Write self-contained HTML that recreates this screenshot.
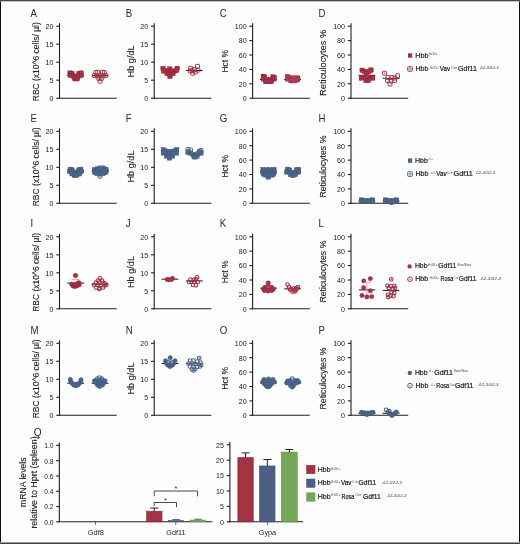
<!DOCTYPE html>
<html><head><meta charset="utf-8"><style>
html,body{margin:0;padding:0;background:#fff;}
body{width:520px;height:544px;overflow:hidden;position:relative;}
svg{position:absolute;left:0;top:0;font-family:'Liberation Sans',sans-serif;will-change:transform;}
.frame{position:absolute;left:0;top:0;width:520px;height:544px;box-sizing:border-box;}
</style></head><body>
<svg width="520" height="544" viewBox="0 0 520 544" font-family="'Liberation Sans', sans-serif">
<rect x="0" y="0" width="520" height="544" fill="#fefefe"/>
<text x="0" y="0" font-size="11.2" fill="#262626" transform="translate(30.60 16.70) scale(0.86 1)">A</text>
<line x1="59.50" y1="23.20" x2="59.50" y2="98.70" stroke="#1e1e1e" stroke-width="1.1"/>
<line x1="59.00" y1="98.20" x2="116.70" y2="98.20" stroke="#1e1e1e" stroke-width="1.1"/>
<line x1="56.30" y1="98.20" x2="59.50" y2="98.20" stroke="#1e1e1e" stroke-width="1.1"/>
<text x="53.50" y="101.05" font-size="7.8" fill="#1a1a1a" text-anchor="end" textLength="3.95" lengthAdjust="spacingAndGlyphs" >0</text>
<line x1="56.30" y1="80.20" x2="59.50" y2="80.20" stroke="#1e1e1e" stroke-width="1.1"/>
<text x="53.50" y="83.05" font-size="7.8" fill="#1a1a1a" text-anchor="end" textLength="3.95" lengthAdjust="spacingAndGlyphs" >5</text>
<line x1="56.30" y1="62.20" x2="59.50" y2="62.20" stroke="#1e1e1e" stroke-width="1.1"/>
<text x="53.50" y="65.05" font-size="7.8" fill="#1a1a1a" text-anchor="end" textLength="7.90" lengthAdjust="spacingAndGlyphs" >10</text>
<line x1="56.30" y1="44.20" x2="59.50" y2="44.20" stroke="#1e1e1e" stroke-width="1.1"/>
<text x="53.50" y="47.05" font-size="7.8" fill="#1a1a1a" text-anchor="end" textLength="7.90" lengthAdjust="spacingAndGlyphs" >15</text>
<line x1="56.30" y1="26.20" x2="59.50" y2="26.20" stroke="#1e1e1e" stroke-width="1.1"/>
<text x="53.50" y="29.05" font-size="7.8" fill="#1a1a1a" text-anchor="end" textLength="7.90" lengthAdjust="spacingAndGlyphs" >20</text>
<text x="38.60" y="101.20" font-size="9.6" fill="#222" textLength="79.00" lengthAdjust="spacingAndGlyphs" transform="rotate(-90 38.60 101.20)" stroke="#222" stroke-width="0.12">RBC (x10^6 cells/ µl)</text>
<text x="0" y="0" font-size="11.2" fill="#262626" transform="translate(125.80 16.70) scale(0.86 1)">B</text>
<line x1="154.20" y1="23.20" x2="154.20" y2="98.70" stroke="#1e1e1e" stroke-width="1.1"/>
<line x1="153.70" y1="98.20" x2="211.40" y2="98.20" stroke="#1e1e1e" stroke-width="1.1"/>
<line x1="151.00" y1="98.20" x2="154.20" y2="98.20" stroke="#1e1e1e" stroke-width="1.1"/>
<text x="148.20" y="101.05" font-size="7.8" fill="#1a1a1a" text-anchor="end" textLength="3.95" lengthAdjust="spacingAndGlyphs" >0</text>
<line x1="151.00" y1="80.20" x2="154.20" y2="80.20" stroke="#1e1e1e" stroke-width="1.1"/>
<text x="148.20" y="83.05" font-size="7.8" fill="#1a1a1a" text-anchor="end" textLength="3.95" lengthAdjust="spacingAndGlyphs" >5</text>
<line x1="151.00" y1="62.20" x2="154.20" y2="62.20" stroke="#1e1e1e" stroke-width="1.1"/>
<text x="148.20" y="65.05" font-size="7.8" fill="#1a1a1a" text-anchor="end" textLength="7.90" lengthAdjust="spacingAndGlyphs" >10</text>
<line x1="151.00" y1="44.20" x2="154.20" y2="44.20" stroke="#1e1e1e" stroke-width="1.1"/>
<text x="148.20" y="47.05" font-size="7.8" fill="#1a1a1a" text-anchor="end" textLength="7.90" lengthAdjust="spacingAndGlyphs" >15</text>
<line x1="151.00" y1="26.20" x2="154.20" y2="26.20" stroke="#1e1e1e" stroke-width="1.1"/>
<text x="148.20" y="29.05" font-size="7.8" fill="#1a1a1a" text-anchor="end" textLength="7.90" lengthAdjust="spacingAndGlyphs" >20</text>
<text x="133.60" y="77.40" font-size="9.6" fill="#222" textLength="32.00" lengthAdjust="spacingAndGlyphs" transform="rotate(-90 133.60 77.40)" stroke="#222" stroke-width="0.12">Hb g/dL</text>
<text x="0" y="0" font-size="11.2" fill="#262626" transform="translate(219.80 16.70) scale(0.86 1)">C</text>
<line x1="252.60" y1="23.20" x2="252.60" y2="98.70" stroke="#1e1e1e" stroke-width="1.1"/>
<line x1="252.10" y1="98.20" x2="309.80" y2="98.20" stroke="#1e1e1e" stroke-width="1.1"/>
<line x1="249.40" y1="98.20" x2="252.60" y2="98.20" stroke="#1e1e1e" stroke-width="1.1"/>
<text x="246.60" y="101.05" font-size="7.8" fill="#1a1a1a" text-anchor="end" textLength="3.95" lengthAdjust="spacingAndGlyphs" >0</text>
<line x1="249.40" y1="83.80" x2="252.60" y2="83.80" stroke="#1e1e1e" stroke-width="1.1"/>
<text x="246.60" y="86.65" font-size="7.8" fill="#1a1a1a" text-anchor="end" textLength="7.90" lengthAdjust="spacingAndGlyphs" >20</text>
<line x1="249.40" y1="69.40" x2="252.60" y2="69.40" stroke="#1e1e1e" stroke-width="1.1"/>
<text x="246.60" y="72.25" font-size="7.8" fill="#1a1a1a" text-anchor="end" textLength="7.90" lengthAdjust="spacingAndGlyphs" >40</text>
<line x1="249.40" y1="55.00" x2="252.60" y2="55.00" stroke="#1e1e1e" stroke-width="1.1"/>
<text x="246.60" y="57.85" font-size="7.8" fill="#1a1a1a" text-anchor="end" textLength="7.90" lengthAdjust="spacingAndGlyphs" >60</text>
<line x1="249.40" y1="40.60" x2="252.60" y2="40.60" stroke="#1e1e1e" stroke-width="1.1"/>
<text x="246.60" y="43.45" font-size="7.8" fill="#1a1a1a" text-anchor="end" textLength="7.90" lengthAdjust="spacingAndGlyphs" >80</text>
<line x1="249.40" y1="26.20" x2="252.60" y2="26.20" stroke="#1e1e1e" stroke-width="1.1"/>
<text x="246.60" y="29.05" font-size="7.8" fill="#1a1a1a" text-anchor="end" textLength="11.85" lengthAdjust="spacingAndGlyphs" >100</text>
<text x="228.00" y="72.60" font-size="9.6" fill="#222" textLength="22.80" lengthAdjust="spacingAndGlyphs" transform="rotate(-90 228.00 72.60)" stroke="#222" stroke-width="0.12">Hct %</text>
<text x="0" y="0" font-size="11.2" fill="#262626" transform="translate(318.40 16.70) scale(0.86 1)">D</text>
<line x1="351.00" y1="23.20" x2="351.00" y2="98.70" stroke="#1e1e1e" stroke-width="1.1"/>
<line x1="350.50" y1="98.20" x2="408.20" y2="98.20" stroke="#1e1e1e" stroke-width="1.1"/>
<line x1="347.80" y1="98.20" x2="351.00" y2="98.20" stroke="#1e1e1e" stroke-width="1.1"/>
<text x="345.00" y="101.05" font-size="7.8" fill="#1a1a1a" text-anchor="end" textLength="3.95" lengthAdjust="spacingAndGlyphs" >0</text>
<line x1="347.80" y1="83.80" x2="351.00" y2="83.80" stroke="#1e1e1e" stroke-width="1.1"/>
<text x="345.00" y="86.65" font-size="7.8" fill="#1a1a1a" text-anchor="end" textLength="7.90" lengthAdjust="spacingAndGlyphs" >20</text>
<line x1="347.80" y1="69.40" x2="351.00" y2="69.40" stroke="#1e1e1e" stroke-width="1.1"/>
<text x="345.00" y="72.25" font-size="7.8" fill="#1a1a1a" text-anchor="end" textLength="7.90" lengthAdjust="spacingAndGlyphs" >40</text>
<line x1="347.80" y1="55.00" x2="351.00" y2="55.00" stroke="#1e1e1e" stroke-width="1.1"/>
<text x="345.00" y="57.85" font-size="7.8" fill="#1a1a1a" text-anchor="end" textLength="7.90" lengthAdjust="spacingAndGlyphs" >60</text>
<line x1="347.80" y1="40.60" x2="351.00" y2="40.60" stroke="#1e1e1e" stroke-width="1.1"/>
<text x="345.00" y="43.45" font-size="7.8" fill="#1a1a1a" text-anchor="end" textLength="7.90" lengthAdjust="spacingAndGlyphs" >80</text>
<line x1="347.80" y1="26.20" x2="351.00" y2="26.20" stroke="#1e1e1e" stroke-width="1.1"/>
<text x="345.00" y="29.05" font-size="7.8" fill="#1a1a1a" text-anchor="end" textLength="11.85" lengthAdjust="spacingAndGlyphs" >100</text>
<text x="326.50" y="95.90" font-size="9.6" fill="#222" textLength="66.20" lengthAdjust="spacingAndGlyphs" transform="rotate(-90 326.50 95.90)" stroke="#222" stroke-width="0.12">Reticulocytes %</text>
<text x="0" y="0" font-size="11.2" fill="#262626" transform="translate(30.60 121.80) scale(0.86 1)">E</text>
<line x1="59.50" y1="128.30" x2="59.50" y2="203.80" stroke="#1e1e1e" stroke-width="1.1"/>
<line x1="59.00" y1="203.30" x2="116.70" y2="203.30" stroke="#1e1e1e" stroke-width="1.1"/>
<line x1="56.30" y1="203.30" x2="59.50" y2="203.30" stroke="#1e1e1e" stroke-width="1.1"/>
<text x="53.50" y="206.15" font-size="7.8" fill="#1a1a1a" text-anchor="end" textLength="3.95" lengthAdjust="spacingAndGlyphs" >0</text>
<line x1="56.30" y1="185.30" x2="59.50" y2="185.30" stroke="#1e1e1e" stroke-width="1.1"/>
<text x="53.50" y="188.15" font-size="7.8" fill="#1a1a1a" text-anchor="end" textLength="3.95" lengthAdjust="spacingAndGlyphs" >5</text>
<line x1="56.30" y1="167.30" x2="59.50" y2="167.30" stroke="#1e1e1e" stroke-width="1.1"/>
<text x="53.50" y="170.15" font-size="7.8" fill="#1a1a1a" text-anchor="end" textLength="7.90" lengthAdjust="spacingAndGlyphs" >10</text>
<line x1="56.30" y1="149.30" x2="59.50" y2="149.30" stroke="#1e1e1e" stroke-width="1.1"/>
<text x="53.50" y="152.15" font-size="7.8" fill="#1a1a1a" text-anchor="end" textLength="7.90" lengthAdjust="spacingAndGlyphs" >15</text>
<line x1="56.30" y1="131.30" x2="59.50" y2="131.30" stroke="#1e1e1e" stroke-width="1.1"/>
<text x="53.50" y="134.15" font-size="7.8" fill="#1a1a1a" text-anchor="end" textLength="7.90" lengthAdjust="spacingAndGlyphs" >20</text>
<text x="38.60" y="206.30" font-size="9.6" fill="#222" textLength="79.00" lengthAdjust="spacingAndGlyphs" transform="rotate(-90 38.60 206.30)" stroke="#222" stroke-width="0.12">RBC (x10^6 cells/ µl)</text>
<text x="0" y="0" font-size="11.2" fill="#262626" transform="translate(125.80 121.80) scale(0.86 1)">F</text>
<line x1="154.20" y1="128.30" x2="154.20" y2="203.80" stroke="#1e1e1e" stroke-width="1.1"/>
<line x1="153.70" y1="203.30" x2="211.40" y2="203.30" stroke="#1e1e1e" stroke-width="1.1"/>
<line x1="151.00" y1="203.30" x2="154.20" y2="203.30" stroke="#1e1e1e" stroke-width="1.1"/>
<text x="148.20" y="206.15" font-size="7.8" fill="#1a1a1a" text-anchor="end" textLength="3.95" lengthAdjust="spacingAndGlyphs" >0</text>
<line x1="151.00" y1="185.30" x2="154.20" y2="185.30" stroke="#1e1e1e" stroke-width="1.1"/>
<text x="148.20" y="188.15" font-size="7.8" fill="#1a1a1a" text-anchor="end" textLength="3.95" lengthAdjust="spacingAndGlyphs" >5</text>
<line x1="151.00" y1="167.30" x2="154.20" y2="167.30" stroke="#1e1e1e" stroke-width="1.1"/>
<text x="148.20" y="170.15" font-size="7.8" fill="#1a1a1a" text-anchor="end" textLength="7.90" lengthAdjust="spacingAndGlyphs" >10</text>
<line x1="151.00" y1="149.30" x2="154.20" y2="149.30" stroke="#1e1e1e" stroke-width="1.1"/>
<text x="148.20" y="152.15" font-size="7.8" fill="#1a1a1a" text-anchor="end" textLength="7.90" lengthAdjust="spacingAndGlyphs" >15</text>
<line x1="151.00" y1="131.30" x2="154.20" y2="131.30" stroke="#1e1e1e" stroke-width="1.1"/>
<text x="148.20" y="134.15" font-size="7.8" fill="#1a1a1a" text-anchor="end" textLength="7.90" lengthAdjust="spacingAndGlyphs" >20</text>
<text x="133.60" y="182.50" font-size="9.6" fill="#222" textLength="32.00" lengthAdjust="spacingAndGlyphs" transform="rotate(-90 133.60 182.50)" stroke="#222" stroke-width="0.12">Hb g/dL</text>
<text x="0" y="0" font-size="11.2" fill="#262626" transform="translate(219.80 121.80) scale(0.86 1)">G</text>
<line x1="252.60" y1="128.30" x2="252.60" y2="203.80" stroke="#1e1e1e" stroke-width="1.1"/>
<line x1="252.10" y1="203.30" x2="309.80" y2="203.30" stroke="#1e1e1e" stroke-width="1.1"/>
<line x1="249.40" y1="203.30" x2="252.60" y2="203.30" stroke="#1e1e1e" stroke-width="1.1"/>
<text x="246.60" y="206.15" font-size="7.8" fill="#1a1a1a" text-anchor="end" textLength="3.95" lengthAdjust="spacingAndGlyphs" >0</text>
<line x1="249.40" y1="188.90" x2="252.60" y2="188.90" stroke="#1e1e1e" stroke-width="1.1"/>
<text x="246.60" y="191.75" font-size="7.8" fill="#1a1a1a" text-anchor="end" textLength="7.90" lengthAdjust="spacingAndGlyphs" >20</text>
<line x1="249.40" y1="174.50" x2="252.60" y2="174.50" stroke="#1e1e1e" stroke-width="1.1"/>
<text x="246.60" y="177.35" font-size="7.8" fill="#1a1a1a" text-anchor="end" textLength="7.90" lengthAdjust="spacingAndGlyphs" >40</text>
<line x1="249.40" y1="160.10" x2="252.60" y2="160.10" stroke="#1e1e1e" stroke-width="1.1"/>
<text x="246.60" y="162.95" font-size="7.8" fill="#1a1a1a" text-anchor="end" textLength="7.90" lengthAdjust="spacingAndGlyphs" >60</text>
<line x1="249.40" y1="145.70" x2="252.60" y2="145.70" stroke="#1e1e1e" stroke-width="1.1"/>
<text x="246.60" y="148.55" font-size="7.8" fill="#1a1a1a" text-anchor="end" textLength="7.90" lengthAdjust="spacingAndGlyphs" >80</text>
<line x1="249.40" y1="131.30" x2="252.60" y2="131.30" stroke="#1e1e1e" stroke-width="1.1"/>
<text x="246.60" y="134.15" font-size="7.8" fill="#1a1a1a" text-anchor="end" textLength="11.85" lengthAdjust="spacingAndGlyphs" >100</text>
<text x="228.00" y="177.70" font-size="9.6" fill="#222" textLength="22.80" lengthAdjust="spacingAndGlyphs" transform="rotate(-90 228.00 177.70)" stroke="#222" stroke-width="0.12">Hct %</text>
<text x="0" y="0" font-size="11.2" fill="#262626" transform="translate(318.40 121.80) scale(0.86 1)">H</text>
<line x1="351.00" y1="128.30" x2="351.00" y2="203.80" stroke="#1e1e1e" stroke-width="1.1"/>
<line x1="350.50" y1="203.30" x2="408.20" y2="203.30" stroke="#1e1e1e" stroke-width="1.1"/>
<line x1="347.80" y1="203.30" x2="351.00" y2="203.30" stroke="#1e1e1e" stroke-width="1.1"/>
<text x="345.00" y="206.15" font-size="7.8" fill="#1a1a1a" text-anchor="end" textLength="3.95" lengthAdjust="spacingAndGlyphs" >0</text>
<line x1="347.80" y1="188.90" x2="351.00" y2="188.90" stroke="#1e1e1e" stroke-width="1.1"/>
<text x="345.00" y="191.75" font-size="7.8" fill="#1a1a1a" text-anchor="end" textLength="7.90" lengthAdjust="spacingAndGlyphs" >20</text>
<line x1="347.80" y1="174.50" x2="351.00" y2="174.50" stroke="#1e1e1e" stroke-width="1.1"/>
<text x="345.00" y="177.35" font-size="7.8" fill="#1a1a1a" text-anchor="end" textLength="7.90" lengthAdjust="spacingAndGlyphs" >40</text>
<line x1="347.80" y1="160.10" x2="351.00" y2="160.10" stroke="#1e1e1e" stroke-width="1.1"/>
<text x="345.00" y="162.95" font-size="7.8" fill="#1a1a1a" text-anchor="end" textLength="7.90" lengthAdjust="spacingAndGlyphs" >60</text>
<line x1="347.80" y1="145.70" x2="351.00" y2="145.70" stroke="#1e1e1e" stroke-width="1.1"/>
<text x="345.00" y="148.55" font-size="7.8" fill="#1a1a1a" text-anchor="end" textLength="7.90" lengthAdjust="spacingAndGlyphs" >80</text>
<line x1="347.80" y1="131.30" x2="351.00" y2="131.30" stroke="#1e1e1e" stroke-width="1.1"/>
<text x="345.00" y="134.15" font-size="7.8" fill="#1a1a1a" text-anchor="end" textLength="11.85" lengthAdjust="spacingAndGlyphs" >100</text>
<text x="326.50" y="197.60" font-size="9.1" fill="#222" textLength="62.00" lengthAdjust="spacingAndGlyphs" transform="rotate(-90 326.50 197.60)" stroke="#222" stroke-width="0.12">Reticulocytes %</text>
<text x="0" y="0" font-size="11.2" fill="#262626" transform="translate(30.60 227.30) scale(0.86 1)">I</text>
<line x1="59.50" y1="233.80" x2="59.50" y2="309.30" stroke="#1e1e1e" stroke-width="1.1"/>
<line x1="59.00" y1="308.80" x2="116.70" y2="308.80" stroke="#1e1e1e" stroke-width="1.1"/>
<line x1="56.30" y1="308.80" x2="59.50" y2="308.80" stroke="#1e1e1e" stroke-width="1.1"/>
<text x="53.50" y="311.65" font-size="7.8" fill="#1a1a1a" text-anchor="end" textLength="3.95" lengthAdjust="spacingAndGlyphs" >0</text>
<line x1="56.30" y1="290.80" x2="59.50" y2="290.80" stroke="#1e1e1e" stroke-width="1.1"/>
<text x="53.50" y="293.65" font-size="7.8" fill="#1a1a1a" text-anchor="end" textLength="3.95" lengthAdjust="spacingAndGlyphs" >5</text>
<line x1="56.30" y1="272.80" x2="59.50" y2="272.80" stroke="#1e1e1e" stroke-width="1.1"/>
<text x="53.50" y="275.65" font-size="7.8" fill="#1a1a1a" text-anchor="end" textLength="7.90" lengthAdjust="spacingAndGlyphs" >10</text>
<line x1="56.30" y1="254.80" x2="59.50" y2="254.80" stroke="#1e1e1e" stroke-width="1.1"/>
<text x="53.50" y="257.65" font-size="7.8" fill="#1a1a1a" text-anchor="end" textLength="7.90" lengthAdjust="spacingAndGlyphs" >15</text>
<line x1="56.30" y1="236.80" x2="59.50" y2="236.80" stroke="#1e1e1e" stroke-width="1.1"/>
<text x="53.50" y="239.65" font-size="7.8" fill="#1a1a1a" text-anchor="end" textLength="7.90" lengthAdjust="spacingAndGlyphs" >20</text>
<text x="38.60" y="311.80" font-size="9.6" fill="#222" textLength="79.00" lengthAdjust="spacingAndGlyphs" transform="rotate(-90 38.60 311.80)" stroke="#222" stroke-width="0.12">RBC (x10^6 cells/ µl)</text>
<text x="0" y="0" font-size="11.2" fill="#262626" transform="translate(125.80 227.30) scale(0.86 1)">J</text>
<line x1="154.20" y1="233.80" x2="154.20" y2="309.30" stroke="#1e1e1e" stroke-width="1.1"/>
<line x1="153.70" y1="308.80" x2="211.40" y2="308.80" stroke="#1e1e1e" stroke-width="1.1"/>
<line x1="151.00" y1="308.80" x2="154.20" y2="308.80" stroke="#1e1e1e" stroke-width="1.1"/>
<text x="148.20" y="311.65" font-size="7.8" fill="#1a1a1a" text-anchor="end" textLength="3.95" lengthAdjust="spacingAndGlyphs" >0</text>
<line x1="151.00" y1="290.80" x2="154.20" y2="290.80" stroke="#1e1e1e" stroke-width="1.1"/>
<text x="148.20" y="293.65" font-size="7.8" fill="#1a1a1a" text-anchor="end" textLength="3.95" lengthAdjust="spacingAndGlyphs" >5</text>
<line x1="151.00" y1="272.80" x2="154.20" y2="272.80" stroke="#1e1e1e" stroke-width="1.1"/>
<text x="148.20" y="275.65" font-size="7.8" fill="#1a1a1a" text-anchor="end" textLength="7.90" lengthAdjust="spacingAndGlyphs" >10</text>
<line x1="151.00" y1="254.80" x2="154.20" y2="254.80" stroke="#1e1e1e" stroke-width="1.1"/>
<text x="148.20" y="257.65" font-size="7.8" fill="#1a1a1a" text-anchor="end" textLength="7.90" lengthAdjust="spacingAndGlyphs" >15</text>
<line x1="151.00" y1="236.80" x2="154.20" y2="236.80" stroke="#1e1e1e" stroke-width="1.1"/>
<text x="148.20" y="239.65" font-size="7.8" fill="#1a1a1a" text-anchor="end" textLength="7.90" lengthAdjust="spacingAndGlyphs" >20</text>
<text x="133.60" y="288.00" font-size="9.6" fill="#222" textLength="32.00" lengthAdjust="spacingAndGlyphs" transform="rotate(-90 133.60 288.00)" stroke="#222" stroke-width="0.12">Hb g/dL</text>
<text x="0" y="0" font-size="11.2" fill="#262626" transform="translate(219.80 227.30) scale(0.86 1)">K</text>
<line x1="252.60" y1="233.80" x2="252.60" y2="309.30" stroke="#1e1e1e" stroke-width="1.1"/>
<line x1="252.10" y1="308.80" x2="309.80" y2="308.80" stroke="#1e1e1e" stroke-width="1.1"/>
<line x1="249.40" y1="308.80" x2="252.60" y2="308.80" stroke="#1e1e1e" stroke-width="1.1"/>
<text x="246.60" y="311.65" font-size="7.8" fill="#1a1a1a" text-anchor="end" textLength="3.95" lengthAdjust="spacingAndGlyphs" >0</text>
<line x1="249.40" y1="294.40" x2="252.60" y2="294.40" stroke="#1e1e1e" stroke-width="1.1"/>
<text x="246.60" y="297.25" font-size="7.8" fill="#1a1a1a" text-anchor="end" textLength="7.90" lengthAdjust="spacingAndGlyphs" >20</text>
<line x1="249.40" y1="280.00" x2="252.60" y2="280.00" stroke="#1e1e1e" stroke-width="1.1"/>
<text x="246.60" y="282.85" font-size="7.8" fill="#1a1a1a" text-anchor="end" textLength="7.90" lengthAdjust="spacingAndGlyphs" >40</text>
<line x1="249.40" y1="265.60" x2="252.60" y2="265.60" stroke="#1e1e1e" stroke-width="1.1"/>
<text x="246.60" y="268.45" font-size="7.8" fill="#1a1a1a" text-anchor="end" textLength="7.90" lengthAdjust="spacingAndGlyphs" >60</text>
<line x1="249.40" y1="251.20" x2="252.60" y2="251.20" stroke="#1e1e1e" stroke-width="1.1"/>
<text x="246.60" y="254.05" font-size="7.8" fill="#1a1a1a" text-anchor="end" textLength="7.90" lengthAdjust="spacingAndGlyphs" >80</text>
<line x1="249.40" y1="236.80" x2="252.60" y2="236.80" stroke="#1e1e1e" stroke-width="1.1"/>
<text x="246.60" y="239.65" font-size="7.8" fill="#1a1a1a" text-anchor="end" textLength="11.85" lengthAdjust="spacingAndGlyphs" >100</text>
<text x="228.00" y="283.20" font-size="9.6" fill="#222" textLength="22.80" lengthAdjust="spacingAndGlyphs" transform="rotate(-90 228.00 283.20)" stroke="#222" stroke-width="0.12">Hct %</text>
<text x="0" y="0" font-size="11.2" fill="#262626" transform="translate(318.40 227.30) scale(0.86 1)">L</text>
<line x1="351.00" y1="233.80" x2="351.00" y2="309.30" stroke="#1e1e1e" stroke-width="1.1"/>
<line x1="350.50" y1="308.80" x2="408.20" y2="308.80" stroke="#1e1e1e" stroke-width="1.1"/>
<line x1="347.80" y1="308.80" x2="351.00" y2="308.80" stroke="#1e1e1e" stroke-width="1.1"/>
<text x="345.00" y="311.65" font-size="7.8" fill="#1a1a1a" text-anchor="end" textLength="3.95" lengthAdjust="spacingAndGlyphs" >0</text>
<line x1="347.80" y1="294.40" x2="351.00" y2="294.40" stroke="#1e1e1e" stroke-width="1.1"/>
<text x="345.00" y="297.25" font-size="7.8" fill="#1a1a1a" text-anchor="end" textLength="7.90" lengthAdjust="spacingAndGlyphs" >20</text>
<line x1="347.80" y1="280.00" x2="351.00" y2="280.00" stroke="#1e1e1e" stroke-width="1.1"/>
<text x="345.00" y="282.85" font-size="7.8" fill="#1a1a1a" text-anchor="end" textLength="7.90" lengthAdjust="spacingAndGlyphs" >40</text>
<line x1="347.80" y1="265.60" x2="351.00" y2="265.60" stroke="#1e1e1e" stroke-width="1.1"/>
<text x="345.00" y="268.45" font-size="7.8" fill="#1a1a1a" text-anchor="end" textLength="7.90" lengthAdjust="spacingAndGlyphs" >60</text>
<line x1="347.80" y1="251.20" x2="351.00" y2="251.20" stroke="#1e1e1e" stroke-width="1.1"/>
<text x="345.00" y="254.05" font-size="7.8" fill="#1a1a1a" text-anchor="end" textLength="7.90" lengthAdjust="spacingAndGlyphs" >80</text>
<line x1="347.80" y1="236.80" x2="351.00" y2="236.80" stroke="#1e1e1e" stroke-width="1.1"/>
<text x="345.00" y="239.65" font-size="7.8" fill="#1a1a1a" text-anchor="end" textLength="11.85" lengthAdjust="spacingAndGlyphs" >100</text>
<text x="326.50" y="302.60" font-size="9.1" fill="#222" textLength="62.00" lengthAdjust="spacingAndGlyphs" transform="rotate(-90 326.50 302.60)" stroke="#222" stroke-width="0.12">Reticulocytes %</text>
<text x="0" y="0" font-size="11.2" fill="#262626" transform="translate(30.60 333.80) scale(0.86 1)">M</text>
<line x1="59.50" y1="340.30" x2="59.50" y2="415.80" stroke="#1e1e1e" stroke-width="1.1"/>
<line x1="59.00" y1="415.30" x2="116.70" y2="415.30" stroke="#1e1e1e" stroke-width="1.1"/>
<line x1="56.30" y1="415.30" x2="59.50" y2="415.30" stroke="#1e1e1e" stroke-width="1.1"/>
<text x="53.50" y="418.15" font-size="7.8" fill="#1a1a1a" text-anchor="end" textLength="3.95" lengthAdjust="spacingAndGlyphs" >0</text>
<line x1="56.30" y1="397.30" x2="59.50" y2="397.30" stroke="#1e1e1e" stroke-width="1.1"/>
<text x="53.50" y="400.15" font-size="7.8" fill="#1a1a1a" text-anchor="end" textLength="3.95" lengthAdjust="spacingAndGlyphs" >5</text>
<line x1="56.30" y1="379.30" x2="59.50" y2="379.30" stroke="#1e1e1e" stroke-width="1.1"/>
<text x="53.50" y="382.15" font-size="7.8" fill="#1a1a1a" text-anchor="end" textLength="7.90" lengthAdjust="spacingAndGlyphs" >10</text>
<line x1="56.30" y1="361.30" x2="59.50" y2="361.30" stroke="#1e1e1e" stroke-width="1.1"/>
<text x="53.50" y="364.15" font-size="7.8" fill="#1a1a1a" text-anchor="end" textLength="7.90" lengthAdjust="spacingAndGlyphs" >15</text>
<line x1="56.30" y1="343.30" x2="59.50" y2="343.30" stroke="#1e1e1e" stroke-width="1.1"/>
<text x="53.50" y="346.15" font-size="7.8" fill="#1a1a1a" text-anchor="end" textLength="7.90" lengthAdjust="spacingAndGlyphs" >20</text>
<text x="38.60" y="418.30" font-size="9.6" fill="#222" textLength="79.00" lengthAdjust="spacingAndGlyphs" transform="rotate(-90 38.60 418.30)" stroke="#222" stroke-width="0.12">RBC (x10^6 cells/ µl)</text>
<text x="0" y="0" font-size="11.2" fill="#262626" transform="translate(125.80 333.80) scale(0.86 1)">N</text>
<line x1="154.20" y1="340.30" x2="154.20" y2="415.80" stroke="#1e1e1e" stroke-width="1.1"/>
<line x1="153.70" y1="415.30" x2="211.40" y2="415.30" stroke="#1e1e1e" stroke-width="1.1"/>
<line x1="151.00" y1="415.30" x2="154.20" y2="415.30" stroke="#1e1e1e" stroke-width="1.1"/>
<text x="148.20" y="418.15" font-size="7.8" fill="#1a1a1a" text-anchor="end" textLength="3.95" lengthAdjust="spacingAndGlyphs" >0</text>
<line x1="151.00" y1="397.30" x2="154.20" y2="397.30" stroke="#1e1e1e" stroke-width="1.1"/>
<text x="148.20" y="400.15" font-size="7.8" fill="#1a1a1a" text-anchor="end" textLength="3.95" lengthAdjust="spacingAndGlyphs" >5</text>
<line x1="151.00" y1="379.30" x2="154.20" y2="379.30" stroke="#1e1e1e" stroke-width="1.1"/>
<text x="148.20" y="382.15" font-size="7.8" fill="#1a1a1a" text-anchor="end" textLength="7.90" lengthAdjust="spacingAndGlyphs" >10</text>
<line x1="151.00" y1="361.30" x2="154.20" y2="361.30" stroke="#1e1e1e" stroke-width="1.1"/>
<text x="148.20" y="364.15" font-size="7.8" fill="#1a1a1a" text-anchor="end" textLength="7.90" lengthAdjust="spacingAndGlyphs" >15</text>
<line x1="151.00" y1="343.30" x2="154.20" y2="343.30" stroke="#1e1e1e" stroke-width="1.1"/>
<text x="148.20" y="346.15" font-size="7.8" fill="#1a1a1a" text-anchor="end" textLength="7.90" lengthAdjust="spacingAndGlyphs" >20</text>
<text x="133.60" y="394.50" font-size="9.6" fill="#222" textLength="32.00" lengthAdjust="spacingAndGlyphs" transform="rotate(-90 133.60 394.50)" stroke="#222" stroke-width="0.12">Hb g/dL</text>
<text x="0" y="0" font-size="11.2" fill="#262626" transform="translate(219.80 333.80) scale(0.86 1)">O</text>
<line x1="252.60" y1="340.30" x2="252.60" y2="415.80" stroke="#1e1e1e" stroke-width="1.1"/>
<line x1="252.10" y1="415.30" x2="309.80" y2="415.30" stroke="#1e1e1e" stroke-width="1.1"/>
<line x1="249.40" y1="415.30" x2="252.60" y2="415.30" stroke="#1e1e1e" stroke-width="1.1"/>
<text x="246.60" y="418.15" font-size="7.8" fill="#1a1a1a" text-anchor="end" textLength="3.95" lengthAdjust="spacingAndGlyphs" >0</text>
<line x1="249.40" y1="400.90" x2="252.60" y2="400.90" stroke="#1e1e1e" stroke-width="1.1"/>
<text x="246.60" y="403.75" font-size="7.8" fill="#1a1a1a" text-anchor="end" textLength="7.90" lengthAdjust="spacingAndGlyphs" >20</text>
<line x1="249.40" y1="386.50" x2="252.60" y2="386.50" stroke="#1e1e1e" stroke-width="1.1"/>
<text x="246.60" y="389.35" font-size="7.8" fill="#1a1a1a" text-anchor="end" textLength="7.90" lengthAdjust="spacingAndGlyphs" >40</text>
<line x1="249.40" y1="372.10" x2="252.60" y2="372.10" stroke="#1e1e1e" stroke-width="1.1"/>
<text x="246.60" y="374.95" font-size="7.8" fill="#1a1a1a" text-anchor="end" textLength="7.90" lengthAdjust="spacingAndGlyphs" >60</text>
<line x1="249.40" y1="357.70" x2="252.60" y2="357.70" stroke="#1e1e1e" stroke-width="1.1"/>
<text x="246.60" y="360.55" font-size="7.8" fill="#1a1a1a" text-anchor="end" textLength="7.90" lengthAdjust="spacingAndGlyphs" >80</text>
<line x1="249.40" y1="343.30" x2="252.60" y2="343.30" stroke="#1e1e1e" stroke-width="1.1"/>
<text x="246.60" y="346.15" font-size="7.8" fill="#1a1a1a" text-anchor="end" textLength="11.85" lengthAdjust="spacingAndGlyphs" >100</text>
<text x="228.00" y="389.70" font-size="9.6" fill="#222" textLength="22.80" lengthAdjust="spacingAndGlyphs" transform="rotate(-90 228.00 389.70)" stroke="#222" stroke-width="0.12">Hct %</text>
<text x="0" y="0" font-size="11.2" fill="#262626" transform="translate(318.40 333.80) scale(0.86 1)">P</text>
<line x1="351.00" y1="340.30" x2="351.00" y2="415.80" stroke="#1e1e1e" stroke-width="1.1"/>
<line x1="350.50" y1="415.30" x2="408.20" y2="415.30" stroke="#1e1e1e" stroke-width="1.1"/>
<line x1="347.80" y1="415.30" x2="351.00" y2="415.30" stroke="#1e1e1e" stroke-width="1.1"/>
<text x="345.00" y="418.15" font-size="7.8" fill="#1a1a1a" text-anchor="end" textLength="3.95" lengthAdjust="spacingAndGlyphs" >0</text>
<line x1="347.80" y1="400.90" x2="351.00" y2="400.90" stroke="#1e1e1e" stroke-width="1.1"/>
<text x="345.00" y="403.75" font-size="7.8" fill="#1a1a1a" text-anchor="end" textLength="7.90" lengthAdjust="spacingAndGlyphs" >20</text>
<line x1="347.80" y1="386.50" x2="351.00" y2="386.50" stroke="#1e1e1e" stroke-width="1.1"/>
<text x="345.00" y="389.35" font-size="7.8" fill="#1a1a1a" text-anchor="end" textLength="7.90" lengthAdjust="spacingAndGlyphs" >40</text>
<line x1="347.80" y1="372.10" x2="351.00" y2="372.10" stroke="#1e1e1e" stroke-width="1.1"/>
<text x="345.00" y="374.95" font-size="7.8" fill="#1a1a1a" text-anchor="end" textLength="7.90" lengthAdjust="spacingAndGlyphs" >60</text>
<line x1="347.80" y1="357.70" x2="351.00" y2="357.70" stroke="#1e1e1e" stroke-width="1.1"/>
<text x="345.00" y="360.55" font-size="7.8" fill="#1a1a1a" text-anchor="end" textLength="7.90" lengthAdjust="spacingAndGlyphs" >80</text>
<line x1="347.80" y1="343.30" x2="351.00" y2="343.30" stroke="#1e1e1e" stroke-width="1.1"/>
<text x="345.00" y="346.15" font-size="7.8" fill="#1a1a1a" text-anchor="end" textLength="11.85" lengthAdjust="spacingAndGlyphs" >100</text>
<text x="326.50" y="409.40" font-size="9.1" fill="#222" textLength="61.80" lengthAdjust="spacingAndGlyphs" transform="rotate(-90 326.50 409.40)" stroke="#222" stroke-width="0.12">Reticulocytes %</text>
<line x1="67.10" y1="75.70" x2="83.90" y2="75.70" stroke="#1a1a1a" stroke-width="1.0"/>
<line x1="91.60" y1="75.70" x2="108.40" y2="75.70" stroke="#1a1a1a" stroke-width="1.0"/>
<line x1="161.70" y1="71.50" x2="178.50" y2="71.50" stroke="#1a1a1a" stroke-width="1.0"/>
<line x1="186.00" y1="70.50" x2="202.80" y2="70.50" stroke="#1a1a1a" stroke-width="1.0"/>
<line x1="260.00" y1="79.50" x2="276.80" y2="79.50" stroke="#1a1a1a" stroke-width="1.0"/>
<line x1="284.20" y1="79.50" x2="301.00" y2="79.50" stroke="#1a1a1a" stroke-width="1.0"/>
<line x1="358.50" y1="75.30" x2="375.30" y2="75.30" stroke="#1a1a1a" stroke-width="1.0"/>
<line x1="382.70" y1="78.30" x2="399.50" y2="78.30" stroke="#1a1a1a" stroke-width="1.0"/>
<line x1="67.20" y1="171.50" x2="84.00" y2="171.50" stroke="#1a1a1a" stroke-width="1.0"/>
<line x1="91.60" y1="171.50" x2="108.40" y2="171.50" stroke="#1a1a1a" stroke-width="1.0"/>
<line x1="161.70" y1="153.90" x2="178.50" y2="153.90" stroke="#1a1a1a" stroke-width="1.0"/>
<line x1="185.90" y1="153.90" x2="202.70" y2="153.90" stroke="#1a1a1a" stroke-width="1.0"/>
<line x1="260.10" y1="172.50" x2="276.90" y2="172.50" stroke="#1a1a1a" stroke-width="1.0"/>
<line x1="284.20" y1="172.50" x2="301.00" y2="172.50" stroke="#1a1a1a" stroke-width="1.0"/>
<line x1="358.50" y1="201.00" x2="375.30" y2="201.00" stroke="#1a1a1a" stroke-width="1.0"/>
<line x1="382.70" y1="201.00" x2="399.50" y2="201.00" stroke="#1a1a1a" stroke-width="1.0"/>
<line x1="67.35" y1="283.10" x2="84.15" y2="283.10" stroke="#1a1a1a" stroke-width="1.0"/>
<line x1="91.60" y1="284.20" x2="108.40" y2="284.20" stroke="#1a1a1a" stroke-width="1.0"/>
<line x1="161.50" y1="279.20" x2="178.30" y2="279.20" stroke="#1a1a1a" stroke-width="1.0"/>
<line x1="185.90" y1="280.90" x2="202.70" y2="280.90" stroke="#1a1a1a" stroke-width="1.0"/>
<line x1="260.10" y1="288.20" x2="276.90" y2="288.20" stroke="#1a1a1a" stroke-width="1.0"/>
<line x1="284.20" y1="288.90" x2="301.00" y2="288.90" stroke="#1a1a1a" stroke-width="1.0"/>
<line x1="358.80" y1="289.90" x2="375.40" y2="289.90" stroke="#1a1a1a" stroke-width="1.0"/>
<line x1="382.80" y1="290.40" x2="399.40" y2="290.40" stroke="#1a1a1a" stroke-width="1.0"/>
<line x1="67.35" y1="383.30" x2="84.15" y2="383.30" stroke="#1a1a1a" stroke-width="1.0"/>
<line x1="91.60" y1="383.30" x2="108.40" y2="383.30" stroke="#1a1a1a" stroke-width="1.0"/>
<line x1="161.70" y1="363.50" x2="178.50" y2="363.50" stroke="#1a1a1a" stroke-width="1.0"/>
<line x1="185.90" y1="363.80" x2="202.70" y2="363.80" stroke="#1a1a1a" stroke-width="1.0"/>
<line x1="260.10" y1="382.90" x2="276.90" y2="382.90" stroke="#1a1a1a" stroke-width="1.0"/>
<line x1="284.20" y1="382.90" x2="301.00" y2="382.90" stroke="#1a1a1a" stroke-width="1.0"/>
<line x1="358.50" y1="413.50" x2="375.30" y2="413.50" stroke="#1a1a1a" stroke-width="1.0"/>
<line x1="382.70" y1="413.30" x2="399.50" y2="413.30" stroke="#1a1a1a" stroke-width="1.0"/>
<rect x="67.80" y="70.80" width="4.4" height="4.4" fill="#a23446" stroke="#931c34" stroke-width="0.4"/>
<rect x="69.80" y="71.30" width="4.4" height="4.4" fill="#a23446" stroke="#931c34" stroke-width="0.4"/>
<rect x="76.80" y="71.30" width="4.4" height="4.4" fill="#a23446" stroke="#931c34" stroke-width="0.4"/>
<rect x="78.80" y="70.80" width="4.4" height="4.4" fill="#a23446" stroke="#931c34" stroke-width="0.4"/>
<rect x="68.30" y="73.30" width="4.4" height="4.4" fill="#a23446" stroke="#931c34" stroke-width="0.4"/>
<rect x="71.30" y="73.80" width="4.4" height="4.4" fill="#a23446" stroke="#931c34" stroke-width="0.4"/>
<rect x="73.80" y="74.30" width="4.4" height="4.4" fill="#a23446" stroke="#931c34" stroke-width="0.4"/>
<rect x="76.30" y="73.80" width="4.4" height="4.4" fill="#a23446" stroke="#931c34" stroke-width="0.4"/>
<rect x="78.80" y="73.30" width="4.4" height="4.4" fill="#a23446" stroke="#931c34" stroke-width="0.4"/>
<rect x="72.80" y="76.60" width="4.4" height="4.4" fill="#a23446" stroke="#931c34" stroke-width="0.4"/>
<rect x="74.80" y="76.60" width="4.4" height="4.4" fill="#a23446" stroke="#931c34" stroke-width="0.4"/>
<rect x="72.30" y="75.30" width="4.4" height="4.4" fill="#a23446" stroke="#931c34" stroke-width="0.4"/>
<rect x="75.30" y="75.30" width="4.4" height="4.4" fill="#a23446" stroke="#931c34" stroke-width="0.4"/>
<rect x="93.85" y="70.65" width="3.90" height="3.90" rx="0.6" fill="none" stroke="#a23446" stroke-width="1.0"/>
<rect x="95.85" y="70.25" width="3.90" height="3.90" rx="0.6" fill="none" stroke="#a23446" stroke-width="1.0"/>
<rect x="100.45" y="70.25" width="3.90" height="3.90" rx="0.6" fill="none" stroke="#a23446" stroke-width="1.0"/>
<rect x="102.45" y="70.65" width="3.90" height="3.90" rx="0.6" fill="none" stroke="#a23446" stroke-width="1.0"/>
<rect x="92.55" y="73.65" width="3.90" height="3.90" rx="0.6" fill="none" stroke="#a23446" stroke-width="1.0"/>
<rect x="95.45" y="73.95" width="3.90" height="3.90" rx="0.6" fill="none" stroke="#a23446" stroke-width="1.0"/>
<rect x="98.25" y="73.65" width="3.90" height="3.90" rx="0.6" fill="none" stroke="#a23446" stroke-width="1.0"/>
<rect x="101.05" y="73.95" width="3.90" height="3.90" rx="0.6" fill="none" stroke="#a23446" stroke-width="1.0"/>
<rect x="103.85" y="73.65" width="3.90" height="3.90" rx="0.6" fill="none" stroke="#a23446" stroke-width="1.0"/>
<rect x="96.85" y="76.45" width="3.90" height="3.90" rx="0.6" fill="none" stroke="#a23446" stroke-width="1.0"/>
<rect x="99.45" y="76.45" width="3.90" height="3.90" rx="0.6" fill="none" stroke="#a23446" stroke-width="1.0"/>
<rect x="98.15" y="79.25" width="3.90" height="3.90" rx="0.6" fill="none" stroke="#a23446" stroke-width="1.0"/>
<rect x="160.80" y="66.20" width="4.4" height="4.4" fill="#a23446" stroke="#931c34" stroke-width="0.4"/>
<rect x="167.60" y="66.80" width="4.4" height="4.4" fill="#a23446" stroke="#931c34" stroke-width="0.4"/>
<rect x="175.00" y="66.10" width="4.4" height="4.4" fill="#a23446" stroke="#931c34" stroke-width="0.4"/>
<rect x="163.30" y="68.30" width="4.4" height="4.4" fill="#a23446" stroke="#931c34" stroke-width="0.4"/>
<rect x="172.30" y="68.80" width="4.4" height="4.4" fill="#a23446" stroke="#931c34" stroke-width="0.4"/>
<rect x="161.30" y="68.80" width="4.4" height="4.4" fill="#a23446" stroke="#931c34" stroke-width="0.4"/>
<rect x="165.30" y="69.80" width="4.4" height="4.4" fill="#a23446" stroke="#931c34" stroke-width="0.4"/>
<rect x="168.80" y="69.80" width="4.4" height="4.4" fill="#a23446" stroke="#931c34" stroke-width="0.4"/>
<rect x="174.30" y="68.30" width="4.4" height="4.4" fill="#a23446" stroke="#931c34" stroke-width="0.4"/>
<rect x="164.80" y="71.30" width="4.4" height="4.4" fill="#a23446" stroke="#931c34" stroke-width="0.4"/>
<rect x="170.80" y="71.30" width="4.4" height="4.4" fill="#a23446" stroke="#931c34" stroke-width="0.4"/>
<rect x="167.80" y="72.30" width="4.4" height="4.4" fill="#a23446" stroke="#931c34" stroke-width="0.4"/>
<rect x="167.80" y="74.30" width="4.4" height="4.4" fill="#a23446" stroke="#931c34" stroke-width="0.4"/>
<rect x="188.65" y="66.25" width="3.90" height="3.90" rx="0.6" fill="none" stroke="#a23446" stroke-width="1.0"/>
<rect x="195.55" y="64.35" width="3.90" height="3.90" rx="0.6" fill="none" stroke="#a23446" stroke-width="1.0"/>
<rect x="196.05" y="68.15" width="3.90" height="3.90" rx="0.6" fill="none" stroke="#a23446" stroke-width="1.0"/>
<rect x="190.75" y="71.35" width="3.90" height="3.90" rx="0.6" fill="none" stroke="#a23446" stroke-width="1.0"/>
<rect x="188.25" y="69.05" width="3.90" height="3.90" rx="0.6" fill="none" stroke="#a23446" stroke-width="1.0"/>
<rect x="193.35" y="70.05" width="3.90" height="3.90" rx="0.6" fill="none" stroke="#a23446" stroke-width="1.0"/>
<rect x="190.25" y="68.55" width="3.90" height="3.90" rx="0.6" fill="none" stroke="#a23446" stroke-width="1.0"/>
<rect x="192.55" y="67.55" width="3.90" height="3.90" rx="0.6" fill="none" stroke="#a23446" stroke-width="1.0"/>
<rect x="261.00" y="74.10" width="4.4" height="4.4" fill="#a23446" stroke="#931c34" stroke-width="0.4"/>
<rect x="262.30" y="74.80" width="4.4" height="4.4" fill="#a23446" stroke="#931c34" stroke-width="0.4"/>
<rect x="270.80" y="74.80" width="4.4" height="4.4" fill="#a23446" stroke="#931c34" stroke-width="0.4"/>
<rect x="271.80" y="75.30" width="4.4" height="4.4" fill="#a23446" stroke="#931c34" stroke-width="0.4"/>
<rect x="261.30" y="76.80" width="4.4" height="4.4" fill="#a23446" stroke="#931c34" stroke-width="0.4"/>
<rect x="264.80" y="77.30" width="4.4" height="4.4" fill="#a23446" stroke="#931c34" stroke-width="0.4"/>
<rect x="268.30" y="77.30" width="4.4" height="4.4" fill="#a23446" stroke="#931c34" stroke-width="0.4"/>
<rect x="271.80" y="76.80" width="4.4" height="4.4" fill="#a23446" stroke="#931c34" stroke-width="0.4"/>
<rect x="263.30" y="79.10" width="4.4" height="4.4" fill="#a23446" stroke="#931c34" stroke-width="0.4"/>
<rect x="266.30" y="79.30" width="4.4" height="4.4" fill="#a23446" stroke="#931c34" stroke-width="0.4"/>
<rect x="269.30" y="79.10" width="4.4" height="4.4" fill="#a23446" stroke="#931c34" stroke-width="0.4"/>
<rect x="264.80" y="79.30" width="4.4" height="4.4" fill="#a23446" stroke="#931c34" stroke-width="0.4"/>
<rect x="267.80" y="79.30" width="4.4" height="4.4" fill="#a23446" stroke="#931c34" stroke-width="0.4"/>
<rect x="285.30" y="74.30" width="4.4" height="4.4" fill="#a93c51" stroke="#a5334a" stroke-width="0.4"/>
<rect x="287.80" y="75.30" width="4.4" height="4.4" fill="#a93c51" stroke="#a5334a" stroke-width="0.4"/>
<rect x="290.30" y="76.10" width="4.4" height="4.4" fill="#a93c51" stroke="#a5334a" stroke-width="0.4"/>
<rect x="293.30" y="75.80" width="4.4" height="4.4" fill="#a93c51" stroke="#a5334a" stroke-width="0.4"/>
<rect x="295.60" y="75.80" width="4.4" height="4.4" fill="#a93c51" stroke="#a5334a" stroke-width="0.4"/>
<rect x="285.30" y="76.80" width="4.4" height="4.4" fill="#a93c51" stroke="#a5334a" stroke-width="0.4"/>
<rect x="288.30" y="77.80" width="4.4" height="4.4" fill="#a93c51" stroke="#a5334a" stroke-width="0.4"/>
<rect x="291.30" y="78.30" width="4.4" height="4.4" fill="#a93c51" stroke="#a5334a" stroke-width="0.4"/>
<rect x="294.30" y="77.80" width="4.4" height="4.4" fill="#a93c51" stroke="#a5334a" stroke-width="0.4"/>
<rect x="295.60" y="77.30" width="4.4" height="4.4" fill="#a93c51" stroke="#a5334a" stroke-width="0.4"/>
<rect x="289.30" y="78.60" width="4.4" height="4.4" fill="#a93c51" stroke="#a5334a" stroke-width="0.4"/>
<rect x="292.30" y="78.60" width="4.4" height="4.4" fill="#a93c51" stroke="#a5334a" stroke-width="0.4"/>
<rect x="359.90" y="68.00" width="4.4" height="4.4" fill="#a23446" stroke="#931c34" stroke-width="0.4"/>
<rect x="362.30" y="69.30" width="4.4" height="4.4" fill="#a23446" stroke="#931c34" stroke-width="0.4"/>
<rect x="368.80" y="67.80" width="4.4" height="4.4" fill="#a23446" stroke="#931c34" stroke-width="0.4"/>
<rect x="366.80" y="69.30" width="4.4" height="4.4" fill="#a23446" stroke="#931c34" stroke-width="0.4"/>
<rect x="364.30" y="71.30" width="4.4" height="4.4" fill="#a23446" stroke="#931c34" stroke-width="0.4"/>
<rect x="359.30" y="75.30" width="4.4" height="4.4" fill="#a23446" stroke="#931c34" stroke-width="0.4"/>
<rect x="362.30" y="75.30" width="4.4" height="4.4" fill="#a23446" stroke="#931c34" stroke-width="0.4"/>
<rect x="366.80" y="75.30" width="4.4" height="4.4" fill="#a23446" stroke="#931c34" stroke-width="0.4"/>
<rect x="370.40" y="75.30" width="4.4" height="4.4" fill="#a23446" stroke="#931c34" stroke-width="0.4"/>
<rect x="364.60" y="74.30" width="4.4" height="4.4" fill="#a23446" stroke="#931c34" stroke-width="0.4"/>
<rect x="363.80" y="78.20" width="4.4" height="4.4" fill="#a23446" stroke="#931c34" stroke-width="0.4"/>
<rect x="366.30" y="78.20" width="4.4" height="4.4" fill="#a23446" stroke="#931c34" stroke-width="0.4"/>
<rect x="359.30" y="76.00" width="4.4" height="4.4" fill="#a23446" stroke="#931c34" stroke-width="0.4"/>
<rect x="370.40" y="76.00" width="4.4" height="4.4" fill="#a23446" stroke="#931c34" stroke-width="0.4"/>
<rect x="382.55" y="71.25" width="3.90" height="3.90" rx="0.6" fill="none" stroke="#a23446" stroke-width="1.0"/>
<rect x="395.65" y="73.85" width="3.90" height="3.90" rx="0.6" fill="none" stroke="#a23446" stroke-width="1.0"/>
<rect x="386.05" y="75.55" width="3.90" height="3.90" rx="0.6" fill="none" stroke="#a23446" stroke-width="1.0"/>
<rect x="390.05" y="75.55" width="3.90" height="3.90" rx="0.6" fill="none" stroke="#a23446" stroke-width="1.0"/>
<rect x="393.05" y="76.05" width="3.90" height="3.90" rx="0.6" fill="none" stroke="#a23446" stroke-width="1.0"/>
<rect x="385.55" y="78.55" width="3.90" height="3.90" rx="0.6" fill="none" stroke="#a23446" stroke-width="1.0"/>
<rect x="389.05" y="79.05" width="3.90" height="3.90" rx="0.6" fill="none" stroke="#a23446" stroke-width="1.0"/>
<rect x="392.55" y="78.55" width="3.90" height="3.90" rx="0.6" fill="none" stroke="#a23446" stroke-width="1.0"/>
<rect x="388.05" y="82.05" width="3.90" height="3.90" rx="0.6" fill="none" stroke="#a23446" stroke-width="1.0"/>
<circle cx="384.5" cy="73.1" r="0.7" fill="#a23446"/>
<rect x="68.10" y="167.10" width="4.4" height="4.4" fill="#4e6487" stroke="#3d5784" stroke-width="0.4"/>
<rect x="69.80" y="167.80" width="4.4" height="4.4" fill="#4e6487" stroke="#3d5784" stroke-width="0.4"/>
<rect x="78.60" y="167.10" width="4.4" height="4.4" fill="#4e6487" stroke="#3d5784" stroke-width="0.4"/>
<rect x="76.80" y="167.80" width="4.4" height="4.4" fill="#4e6487" stroke="#3d5784" stroke-width="0.4"/>
<rect x="67.60" y="169.30" width="4.4" height="4.4" fill="#4e6487" stroke="#3d5784" stroke-width="0.4"/>
<rect x="70.30" y="169.80" width="4.4" height="4.4" fill="#4e6487" stroke="#3d5784" stroke-width="0.4"/>
<rect x="73.30" y="170.00" width="4.4" height="4.4" fill="#4e6487" stroke="#3d5784" stroke-width="0.4"/>
<rect x="76.30" y="169.80" width="4.4" height="4.4" fill="#4e6487" stroke="#3d5784" stroke-width="0.4"/>
<rect x="79.10" y="169.30" width="4.4" height="4.4" fill="#4e6487" stroke="#3d5784" stroke-width="0.4"/>
<rect x="69.80" y="171.60" width="4.4" height="4.4" fill="#4e6487" stroke="#3d5784" stroke-width="0.4"/>
<rect x="72.30" y="172.00" width="4.4" height="4.4" fill="#4e6487" stroke="#3d5784" stroke-width="0.4"/>
<rect x="74.80" y="172.00" width="4.4" height="4.4" fill="#4e6487" stroke="#3d5784" stroke-width="0.4"/>
<rect x="77.30" y="171.60" width="4.4" height="4.4" fill="#4e6487" stroke="#3d5784" stroke-width="0.4"/>
<rect x="72.30" y="173.10" width="4.4" height="4.4" fill="#4e6487" stroke="#3d5784" stroke-width="0.4"/>
<rect x="74.30" y="173.10" width="4.4" height="4.4" fill="#4e6487" stroke="#3d5784" stroke-width="0.4"/>
<rect x="92.30" y="167.30" width="4.4" height="4.4" fill="#4e6487" stroke="#3d5784" stroke-width="0.4"/>
<rect x="95.30" y="166.80" width="4.4" height="4.4" fill="#4e6487" stroke="#3d5784" stroke-width="0.4"/>
<rect x="98.80" y="166.80" width="4.4" height="4.4" fill="#4e6487" stroke="#3d5784" stroke-width="0.4"/>
<rect x="101.80" y="166.80" width="4.4" height="4.4" fill="#4e6487" stroke="#3d5784" stroke-width="0.4"/>
<rect x="103.80" y="167.30" width="4.4" height="4.4" fill="#4e6487" stroke="#3d5784" stroke-width="0.4"/>
<rect x="92.30" y="169.30" width="4.4" height="4.4" fill="#4e6487" stroke="#3d5784" stroke-width="0.4"/>
<rect x="95.80" y="169.80" width="4.4" height="4.4" fill="#4e6487" stroke="#3d5784" stroke-width="0.4"/>
<rect x="98.80" y="169.80" width="4.4" height="4.4" fill="#4e6487" stroke="#3d5784" stroke-width="0.4"/>
<rect x="101.80" y="169.80" width="4.4" height="4.4" fill="#4e6487" stroke="#3d5784" stroke-width="0.4"/>
<rect x="103.80" y="169.30" width="4.4" height="4.4" fill="#4e6487" stroke="#3d5784" stroke-width="0.4"/>
<rect x="94.80" y="171.30" width="4.4" height="4.4" fill="#4e6487" stroke="#3d5784" stroke-width="0.4"/>
<rect x="97.80" y="171.80" width="4.4" height="4.4" fill="#4e6487" stroke="#3d5784" stroke-width="0.4"/>
<rect x="100.80" y="171.30" width="4.4" height="4.4" fill="#4e6487" stroke="#3d5784" stroke-width="0.4"/>
<rect x="102.80" y="170.30" width="4.4" height="4.4" fill="#4e6487" stroke="#3d5784" stroke-width="0.4"/>
<rect x="92.80" y="170.30" width="4.4" height="4.4" fill="#4e6487" stroke="#3d5784" stroke-width="0.4"/>
<rect x="97.55" y="166.05" width="3.90" height="3.90" rx="0.6" fill="none" stroke="#4e6487" stroke-width="1.0"/>
<rect x="101.05" y="165.85" width="3.90" height="3.90" rx="0.6" fill="none" stroke="#4e6487" stroke-width="1.0"/>
<rect x="98.05" y="174.25" width="3.90" height="3.90" rx="0.6" fill="none" stroke="#4e6487" stroke-width="1.0"/>
<rect x="161.10" y="147.40" width="4.4" height="4.4" fill="#4e6487" stroke="#3d5784" stroke-width="0.4"/>
<rect x="174.50" y="147.40" width="4.4" height="4.4" fill="#4e6487" stroke="#3d5784" stroke-width="0.4"/>
<rect x="163.30" y="148.80" width="4.4" height="4.4" fill="#4e6487" stroke="#3d5784" stroke-width="0.4"/>
<rect x="172.30" y="148.80" width="4.4" height="4.4" fill="#4e6487" stroke="#3d5784" stroke-width="0.4"/>
<rect x="165.80" y="149.30" width="4.4" height="4.4" fill="#4e6487" stroke="#3d5784" stroke-width="0.4"/>
<rect x="169.30" y="149.30" width="4.4" height="4.4" fill="#4e6487" stroke="#3d5784" stroke-width="0.4"/>
<rect x="161.10" y="150.80" width="4.4" height="4.4" fill="#4e6487" stroke="#3d5784" stroke-width="0.4"/>
<rect x="164.80" y="151.30" width="4.4" height="4.4" fill="#4e6487" stroke="#3d5784" stroke-width="0.4"/>
<rect x="167.80" y="151.30" width="4.4" height="4.4" fill="#4e6487" stroke="#3d5784" stroke-width="0.4"/>
<rect x="170.80" y="151.30" width="4.4" height="4.4" fill="#4e6487" stroke="#3d5784" stroke-width="0.4"/>
<rect x="174.30" y="150.80" width="4.4" height="4.4" fill="#4e6487" stroke="#3d5784" stroke-width="0.4"/>
<rect x="164.30" y="153.80" width="4.4" height="4.4" fill="#4e6487" stroke="#3d5784" stroke-width="0.4"/>
<rect x="167.30" y="154.30" width="4.4" height="4.4" fill="#4e6487" stroke="#3d5784" stroke-width="0.4"/>
<rect x="170.30" y="153.80" width="4.4" height="4.4" fill="#4e6487" stroke="#3d5784" stroke-width="0.4"/>
<rect x="167.30" y="155.80" width="4.4" height="4.4" fill="#4e6487" stroke="#3d5784" stroke-width="0.4"/>
<rect x="185.80" y="149.80" width="4.4" height="4.4" fill="#4e6487" stroke="#3d5784" stroke-width="0.4"/>
<rect x="188.30" y="150.80" width="4.4" height="4.4" fill="#4e6487" stroke="#3d5784" stroke-width="0.4"/>
<rect x="190.80" y="152.30" width="4.4" height="4.4" fill="#4e6487" stroke="#3d5784" stroke-width="0.4"/>
<rect x="193.80" y="152.80" width="4.4" height="4.4" fill="#4e6487" stroke="#3d5784" stroke-width="0.4"/>
<rect x="191.80" y="154.30" width="4.4" height="4.4" fill="#4e6487" stroke="#3d5784" stroke-width="0.4"/>
<rect x="194.80" y="153.80" width="4.4" height="4.4" fill="#4e6487" stroke="#3d5784" stroke-width="0.4"/>
<rect x="192.80" y="154.80" width="4.4" height="4.4" fill="#4e6487" stroke="#3d5784" stroke-width="0.4"/>
<rect x="197.30" y="149.30" width="4.4" height="4.4" fill="#4e6487" stroke="#3d5784" stroke-width="0.4"/>
<rect x="196.30" y="151.30" width="4.4" height="4.4" fill="#4e6487" stroke="#3d5784" stroke-width="0.4"/>
<rect x="198.80" y="150.80" width="4.4" height="4.4" fill="#4e6487" stroke="#3d5784" stroke-width="0.4"/>
<rect x="186.05" y="147.55" width="3.90" height="3.90" rx="0.6" fill="none" stroke="#4e6487" stroke-width="1.0"/>
<rect x="188.55" y="148.05" width="3.90" height="3.90" rx="0.6" fill="none" stroke="#4e6487" stroke-width="1.0"/>
<rect x="199.05" y="148.55" width="3.90" height="3.90" rx="0.6" fill="none" stroke="#4e6487" stroke-width="1.0"/>
<rect x="260.80" y="167.30" width="4.4" height="4.4" fill="#4e6487" stroke="#3d5784" stroke-width="0.4"/>
<rect x="264.30" y="167.60" width="4.4" height="4.4" fill="#4e6487" stroke="#3d5784" stroke-width="0.4"/>
<rect x="267.80" y="167.60" width="4.4" height="4.4" fill="#4e6487" stroke="#3d5784" stroke-width="0.4"/>
<rect x="271.80" y="167.30" width="4.4" height="4.4" fill="#4e6487" stroke="#3d5784" stroke-width="0.4"/>
<rect x="260.80" y="170.30" width="4.4" height="4.4" fill="#4e6487" stroke="#3d5784" stroke-width="0.4"/>
<rect x="264.30" y="170.30" width="4.4" height="4.4" fill="#4e6487" stroke="#3d5784" stroke-width="0.4"/>
<rect x="267.80" y="170.30" width="4.4" height="4.4" fill="#4e6487" stroke="#3d5784" stroke-width="0.4"/>
<rect x="271.80" y="170.30" width="4.4" height="4.4" fill="#4e6487" stroke="#3d5784" stroke-width="0.4"/>
<rect x="261.30" y="171.80" width="4.4" height="4.4" fill="#4e6487" stroke="#3d5784" stroke-width="0.4"/>
<rect x="271.30" y="171.80" width="4.4" height="4.4" fill="#4e6487" stroke="#3d5784" stroke-width="0.4"/>
<rect x="263.80" y="172.80" width="4.4" height="4.4" fill="#4e6487" stroke="#3d5784" stroke-width="0.4"/>
<rect x="266.80" y="172.80" width="4.4" height="4.4" fill="#4e6487" stroke="#3d5784" stroke-width="0.4"/>
<rect x="269.80" y="172.80" width="4.4" height="4.4" fill="#4e6487" stroke="#3d5784" stroke-width="0.4"/>
<rect x="266.10" y="174.80" width="4.4" height="4.4" fill="#4e6487" stroke="#3d5784" stroke-width="0.4"/>
<rect x="285.30" y="167.30" width="4.4" height="4.4" fill="#4e6487" stroke="#3d5784" stroke-width="0.4"/>
<rect x="287.30" y="167.80" width="4.4" height="4.4" fill="#4e6487" stroke="#3d5784" stroke-width="0.4"/>
<rect x="294.30" y="167.60" width="4.4" height="4.4" fill="#4e6487" stroke="#3d5784" stroke-width="0.4"/>
<rect x="296.30" y="167.60" width="4.4" height="4.4" fill="#4e6487" stroke="#3d5784" stroke-width="0.4"/>
<rect x="284.80" y="169.80" width="4.4" height="4.4" fill="#4e6487" stroke="#3d5784" stroke-width="0.4"/>
<rect x="287.80" y="170.30" width="4.4" height="4.4" fill="#4e6487" stroke="#3d5784" stroke-width="0.4"/>
<rect x="290.80" y="170.30" width="4.4" height="4.4" fill="#4e6487" stroke="#3d5784" stroke-width="0.4"/>
<rect x="293.80" y="170.30" width="4.4" height="4.4" fill="#4e6487" stroke="#3d5784" stroke-width="0.4"/>
<rect x="296.30" y="169.80" width="4.4" height="4.4" fill="#4e6487" stroke="#3d5784" stroke-width="0.4"/>
<rect x="288.30" y="172.30" width="4.4" height="4.4" fill="#4e6487" stroke="#3d5784" stroke-width="0.4"/>
<rect x="290.80" y="173.30" width="4.4" height="4.4" fill="#4e6487" stroke="#3d5784" stroke-width="0.4"/>
<rect x="293.30" y="172.30" width="4.4" height="4.4" fill="#4e6487" stroke="#3d5784" stroke-width="0.4"/>
<rect x="285.55" y="167.25" width="3.90" height="3.90" rx="0.6" fill="none" stroke="#4e6487" stroke-width="1.0"/>
<rect x="296.55" y="167.55" width="3.90" height="3.90" rx="0.6" fill="none" stroke="#4e6487" stroke-width="1.0"/>
<rect x="359.30" y="197.80" width="4.4" height="4.4" fill="#4e6487" stroke="#3d5784" stroke-width="0.4"/>
<rect x="362.30" y="198.30" width="4.4" height="4.4" fill="#4e6487" stroke="#3d5784" stroke-width="0.4"/>
<rect x="364.80" y="199.10" width="4.4" height="4.4" fill="#4e6487" stroke="#3d5784" stroke-width="0.4"/>
<rect x="367.30" y="198.30" width="4.4" height="4.4" fill="#4e6487" stroke="#3d5784" stroke-width="0.4"/>
<rect x="370.30" y="197.80" width="4.4" height="4.4" fill="#4e6487" stroke="#3d5784" stroke-width="0.4"/>
<rect x="359.80" y="198.80" width="4.4" height="4.4" fill="#4e6487" stroke="#3d5784" stroke-width="0.4"/>
<rect x="363.80" y="199.00" width="4.4" height="4.4" fill="#4e6487" stroke="#3d5784" stroke-width="0.4"/>
<rect x="367.80" y="199.00" width="4.4" height="4.4" fill="#4e6487" stroke="#3d5784" stroke-width="0.4"/>
<rect x="370.30" y="198.80" width="4.4" height="4.4" fill="#4e6487" stroke="#3d5784" stroke-width="0.4"/>
<rect x="383.30" y="197.80" width="4.4" height="4.4" fill="#4e6487" stroke="#3d5784" stroke-width="0.4"/>
<rect x="386.30" y="198.30" width="4.4" height="4.4" fill="#4e6487" stroke="#3d5784" stroke-width="0.4"/>
<rect x="388.80" y="199.10" width="4.4" height="4.4" fill="#4e6487" stroke="#3d5784" stroke-width="0.4"/>
<rect x="391.30" y="198.30" width="4.4" height="4.4" fill="#4e6487" stroke="#3d5784" stroke-width="0.4"/>
<rect x="394.30" y="197.80" width="4.4" height="4.4" fill="#4e6487" stroke="#3d5784" stroke-width="0.4"/>
<rect x="383.80" y="198.80" width="4.4" height="4.4" fill="#4e6487" stroke="#3d5784" stroke-width="0.4"/>
<rect x="387.80" y="199.00" width="4.4" height="4.4" fill="#4e6487" stroke="#3d5784" stroke-width="0.4"/>
<rect x="391.80" y="199.00" width="4.4" height="4.4" fill="#4e6487" stroke="#3d5784" stroke-width="0.4"/>
<rect x="394.30" y="198.80" width="4.4" height="4.4" fill="#4e6487" stroke="#3d5784" stroke-width="0.4"/>
<rect x="389.55" y="200.65" width="3.90" height="3.90" rx="0.6" fill="none" stroke="#4e6487" stroke-width="1.0"/>
<circle cx="75.50" cy="275.50" r="2.3" fill="#a23446" stroke="#931c34" stroke-width="0.4"/>
<circle cx="71.80" cy="284.20" r="2.2" fill="#a23446" stroke="#931c34" stroke-width="0.4"/>
<circle cx="73.00" cy="286.00" r="2.2" fill="#a23446" stroke="#931c34" stroke-width="0.4"/>
<circle cx="74.80" cy="286.50" r="2.2" fill="#a23446" stroke="#931c34" stroke-width="0.4"/>
<circle cx="77.00" cy="285.80" r="2.2" fill="#a23446" stroke="#931c34" stroke-width="0.4"/>
<circle cx="78.80" cy="282.60" r="2.2" fill="#a23446" stroke="#931c34" stroke-width="0.4"/>
<circle cx="79.30" cy="284.80" r="2.2" fill="#a23446" stroke="#931c34" stroke-width="0.4"/>
<circle cx="76.50" cy="284.00" r="2.2" fill="#a23446" stroke="#931c34" stroke-width="0.4"/>
<line x1="71.40" y1="279.40" x2="79.70" y2="279.40" stroke="#d890a0" stroke-width="0.8"/>
<circle cx="100.10" cy="278.30" r="1.80" fill="none" stroke="#a23446" stroke-width="1.1"/>
<circle cx="98.00" cy="280.50" r="1.80" fill="none" stroke="#a23446" stroke-width="1.1"/>
<circle cx="102.00" cy="280.50" r="1.80" fill="none" stroke="#a23446" stroke-width="1.1"/>
<circle cx="96.00" cy="282.50" r="1.80" fill="none" stroke="#a23446" stroke-width="1.1"/>
<circle cx="99.50" cy="282.50" r="1.80" fill="none" stroke="#a23446" stroke-width="1.1"/>
<circle cx="103.00" cy="282.80" r="1.80" fill="none" stroke="#a23446" stroke-width="1.1"/>
<circle cx="105.00" cy="283.50" r="1.80" fill="none" stroke="#a23446" stroke-width="1.1"/>
<circle cx="94.00" cy="285.00" r="1.80" fill="none" stroke="#a23446" stroke-width="1.1"/>
<circle cx="97.50" cy="285.00" r="1.80" fill="none" stroke="#a23446" stroke-width="1.1"/>
<circle cx="101.00" cy="285.50" r="1.80" fill="none" stroke="#a23446" stroke-width="1.1"/>
<circle cx="104.50" cy="285.50" r="1.80" fill="none" stroke="#a23446" stroke-width="1.1"/>
<circle cx="106.30" cy="285.00" r="1.80" fill="none" stroke="#a23446" stroke-width="1.1"/>
<circle cx="96.00" cy="287.50" r="1.80" fill="none" stroke="#a23446" stroke-width="1.1"/>
<circle cx="99.50" cy="288.00" r="1.80" fill="none" stroke="#a23446" stroke-width="1.1"/>
<circle cx="103.00" cy="287.50" r="1.80" fill="none" stroke="#a23446" stroke-width="1.1"/>
<circle cx="99.30" cy="289.00" r="1.80" fill="none" stroke="#a23446" stroke-width="1.1"/>
<circle cx="167.20" cy="279.40" r="2.2" fill="#a23446" stroke="#931c34" stroke-width="0.4"/>
<circle cx="168.70" cy="279.80" r="2.2" fill="#a23446" stroke="#931c34" stroke-width="0.4"/>
<circle cx="172.50" cy="278.40" r="2.2" fill="#a23446" stroke="#931c34" stroke-width="0.4"/>
<circle cx="171.30" cy="279.60" r="2.2" fill="#a23446" stroke="#931c34" stroke-width="0.4"/>
<circle cx="197.00" cy="277.30" r="1.80" fill="none" stroke="#a23446" stroke-width="1.1"/>
<circle cx="196.00" cy="279.30" r="1.80" fill="none" stroke="#a23446" stroke-width="1.1"/>
<circle cx="190.50" cy="279.50" r="1.80" fill="none" stroke="#a23446" stroke-width="1.1"/>
<circle cx="189.00" cy="282.00" r="1.80" fill="none" stroke="#a23446" stroke-width="1.1"/>
<circle cx="194.00" cy="282.00" r="1.80" fill="none" stroke="#a23446" stroke-width="1.1"/>
<circle cx="198.00" cy="282.00" r="1.80" fill="none" stroke="#a23446" stroke-width="1.1"/>
<circle cx="191.50" cy="282.00" r="1.80" fill="none" stroke="#a23446" stroke-width="1.1"/>
<circle cx="193.00" cy="285.00" r="1.80" fill="none" stroke="#a23446" stroke-width="1.1"/>
<circle cx="196.00" cy="285.30" r="1.80" fill="none" stroke="#a23446" stroke-width="1.1"/>
<circle cx="193.80" cy="279.80" r="1.80" fill="none" stroke="#a23446" stroke-width="1.1"/>
<circle cx="268.20" cy="283.10" r="2.3" fill="#a23446" stroke="#931c34" stroke-width="0.4"/>
<circle cx="265.00" cy="287.30" r="2.2" fill="#a23446" stroke="#931c34" stroke-width="0.4"/>
<circle cx="268.30" cy="287.00" r="2.2" fill="#a23446" stroke="#931c34" stroke-width="0.4"/>
<circle cx="271.50" cy="287.30" r="2.2" fill="#a23446" stroke="#931c34" stroke-width="0.4"/>
<circle cx="263.50" cy="289.00" r="2.2" fill="#a23446" stroke="#931c34" stroke-width="0.4"/>
<circle cx="273.50" cy="289.00" r="2.2" fill="#a23446" stroke="#931c34" stroke-width="0.4"/>
<circle cx="264.50" cy="290.50" r="2.2" fill="#a23446" stroke="#931c34" stroke-width="0.4"/>
<circle cx="268.00" cy="291.00" r="2.2" fill="#a23446" stroke="#931c34" stroke-width="0.4"/>
<circle cx="271.80" cy="290.50" r="2.2" fill="#a23446" stroke="#931c34" stroke-width="0.4"/>
<line x1="266.50" y1="287.00" x2="270.50" y2="287.00" stroke="#d890a0" stroke-width="0.7"/>
<circle cx="287.50" cy="284.60" r="1.80" fill="none" stroke="#a23446" stroke-width="1.1"/>
<circle cx="289.00" cy="287.00" r="1.80" fill="none" stroke="#a23446" stroke-width="1.1"/>
<circle cx="291.00" cy="289.00" r="1.80" fill="none" stroke="#a23446" stroke-width="1.1"/>
<circle cx="293.50" cy="290.50" r="1.80" fill="none" stroke="#a23446" stroke-width="1.1"/>
<circle cx="292.50" cy="291.50" r="1.80" fill="none" stroke="#a23446" stroke-width="1.1"/>
<circle cx="295.50" cy="290.00" r="1.80" fill="none" stroke="#a23446" stroke-width="1.1"/>
<circle cx="297.00" cy="288.50" r="1.80" fill="none" stroke="#a23446" stroke-width="1.1"/>
<circle cx="298.00" cy="287.00" r="1.80" fill="none" stroke="#a23446" stroke-width="1.1"/>
<circle cx="290.00" cy="289.50" r="1.80" fill="none" stroke="#a23446" stroke-width="1.1"/>
<circle cx="295.00" cy="291.30" r="1.80" fill="none" stroke="#a23446" stroke-width="1.1"/>
<circle cx="296.00" cy="288.20" r="1.80" fill="none" stroke="#a23446" stroke-width="1.1"/>
<circle cx="293.00" cy="288.50" r="1.80" fill="none" stroke="#a23446" stroke-width="1.1"/>
<circle cx="363.80" cy="280.90" r="2.2" fill="#a23446" stroke="#931c34" stroke-width="0.4"/>
<circle cx="370.30" cy="278.60" r="2.2" fill="#a23446" stroke="#931c34" stroke-width="0.4"/>
<circle cx="363.60" cy="287.70" r="2.2" fill="#a23446" stroke="#931c34" stroke-width="0.4"/>
<circle cx="370.30" cy="290.80" r="2.2" fill="#a23446" stroke="#931c34" stroke-width="0.4"/>
<circle cx="362.00" cy="295.40" r="2.2" fill="#a23446" stroke="#931c34" stroke-width="0.4"/>
<circle cx="366.90" cy="296.90" r="2.2" fill="#a23446" stroke="#931c34" stroke-width="0.4"/>
<circle cx="371.70" cy="296.60" r="2.2" fill="#a23446" stroke="#931c34" stroke-width="0.4"/>
<line x1="366.90" y1="282.30" x2="366.90" y2="295.00" stroke="#d890a0" stroke-width="0.8"/>
<line x1="363.50" y1="282.30" x2="371.00" y2="282.30" stroke="#d890a0" stroke-width="0.8"/>
<circle cx="391.30" cy="279.40" r="1.80" fill="none" stroke="#a23446" stroke-width="1.1"/>
<circle cx="387.40" cy="285.50" r="1.80" fill="none" stroke="#a23446" stroke-width="1.1"/>
<circle cx="390.60" cy="286.00" r="1.80" fill="none" stroke="#a23446" stroke-width="1.1"/>
<circle cx="394.30" cy="285.80" r="1.80" fill="none" stroke="#a23446" stroke-width="1.1"/>
<circle cx="388.80" cy="287.90" r="1.80" fill="none" stroke="#a23446" stroke-width="1.1"/>
<circle cx="394.80" cy="287.90" r="1.80" fill="none" stroke="#a23446" stroke-width="1.1"/>
<circle cx="392.90" cy="289.20" r="1.80" fill="none" stroke="#a23446" stroke-width="1.1"/>
<circle cx="394.30" cy="292.90" r="1.80" fill="none" stroke="#a23446" stroke-width="1.1"/>
<circle cx="387.90" cy="294.80" r="1.80" fill="none" stroke="#a23446" stroke-width="1.1"/>
<circle cx="390.60" cy="295.70" r="1.80" fill="none" stroke="#a23446" stroke-width="1.1"/>
<circle cx="393.40" cy="296.20" r="1.80" fill="none" stroke="#a23446" stroke-width="1.1"/>
<circle cx="388.30" cy="297.10" r="1.80" fill="none" stroke="#a23446" stroke-width="1.1"/>
<circle cx="391.50" cy="292.50" r="1.80" fill="none" stroke="#a23446" stroke-width="1.1"/>
<circle cx="391.3" cy="279.4" r="0.6" fill="#a23446"/>
<circle cx="70.30" cy="379.50" r="2.2" fill="#4e6487" stroke="#3d5784" stroke-width="0.4"/>
<circle cx="70.80" cy="381.50" r="2.2" fill="#4e6487" stroke="#3d5784" stroke-width="0.4"/>
<circle cx="72.00" cy="383.30" r="2.2" fill="#4e6487" stroke="#3d5784" stroke-width="0.4"/>
<circle cx="73.80" cy="385.00" r="2.2" fill="#4e6487" stroke="#3d5784" stroke-width="0.4"/>
<circle cx="75.80" cy="385.80" r="2.2" fill="#4e6487" stroke="#3d5784" stroke-width="0.4"/>
<circle cx="77.80" cy="385.00" r="2.2" fill="#4e6487" stroke="#3d5784" stroke-width="0.4"/>
<circle cx="79.50" cy="383.30" r="2.2" fill="#4e6487" stroke="#3d5784" stroke-width="0.4"/>
<circle cx="80.80" cy="381.50" r="2.2" fill="#4e6487" stroke="#3d5784" stroke-width="0.4"/>
<circle cx="81.00" cy="379.80" r="2.2" fill="#4e6487" stroke="#3d5784" stroke-width="0.4"/>
<circle cx="75.50" cy="384.50" r="2.2" fill="#4e6487" stroke="#3d5784" stroke-width="0.4"/>
<circle cx="77.00" cy="384.00" r="2.2" fill="#4e6487" stroke="#3d5784" stroke-width="0.4"/>
<circle cx="94.50" cy="380.80" r="2.2" fill="#4e6487" stroke="#3d5784" stroke-width="0.4"/>
<circle cx="97.00" cy="380.50" r="2.2" fill="#4e6487" stroke="#3d5784" stroke-width="0.4"/>
<circle cx="102.50" cy="380.50" r="2.2" fill="#4e6487" stroke="#3d5784" stroke-width="0.4"/>
<circle cx="105.00" cy="380.80" r="2.2" fill="#4e6487" stroke="#3d5784" stroke-width="0.4"/>
<circle cx="95.50" cy="382.50" r="2.2" fill="#4e6487" stroke="#3d5784" stroke-width="0.4"/>
<circle cx="98.50" cy="383.00" r="2.2" fill="#4e6487" stroke="#3d5784" stroke-width="0.4"/>
<circle cx="101.50" cy="383.00" r="2.2" fill="#4e6487" stroke="#3d5784" stroke-width="0.4"/>
<circle cx="104.50" cy="382.50" r="2.2" fill="#4e6487" stroke="#3d5784" stroke-width="0.4"/>
<circle cx="97.50" cy="385.00" r="2.2" fill="#4e6487" stroke="#3d5784" stroke-width="0.4"/>
<circle cx="100.00" cy="385.50" r="2.2" fill="#4e6487" stroke="#3d5784" stroke-width="0.4"/>
<circle cx="102.50" cy="385.00" r="2.2" fill="#4e6487" stroke="#3d5784" stroke-width="0.4"/>
<circle cx="99.50" cy="386.50" r="2.2" fill="#4e6487" stroke="#3d5784" stroke-width="0.4"/>
<circle cx="99.80" cy="380.30" r="2.2" fill="#4e6487" stroke="#3d5784" stroke-width="0.4"/>
<circle cx="99.50" cy="377.50" r="1.80" fill="none" stroke="#4e6487" stroke-width="1.1"/>
<circle cx="97.30" cy="378.50" r="1.80" fill="none" stroke="#4e6487" stroke-width="1.1"/>
<circle cx="101.80" cy="378.50" r="1.80" fill="none" stroke="#4e6487" stroke-width="1.1"/>
<circle cx="170.20" cy="357.70" r="2.2" fill="#4e6487" stroke="#3d5784" stroke-width="0.4"/>
<circle cx="165.50" cy="360.80" r="2.2" fill="#4e6487" stroke="#3d5784" stroke-width="0.4"/>
<circle cx="166.00" cy="363.00" r="2.2" fill="#4e6487" stroke="#3d5784" stroke-width="0.4"/>
<circle cx="167.50" cy="365.00" r="2.2" fill="#4e6487" stroke="#3d5784" stroke-width="0.4"/>
<circle cx="170.00" cy="366.50" r="2.2" fill="#4e6487" stroke="#3d5784" stroke-width="0.4"/>
<circle cx="172.50" cy="365.00" r="2.2" fill="#4e6487" stroke="#3d5784" stroke-width="0.4"/>
<circle cx="174.00" cy="363.00" r="2.2" fill="#4e6487" stroke="#3d5784" stroke-width="0.4"/>
<circle cx="175.00" cy="360.80" r="2.2" fill="#4e6487" stroke="#3d5784" stroke-width="0.4"/>
<circle cx="170.00" cy="364.00" r="2.2" fill="#4e6487" stroke="#3d5784" stroke-width="0.4"/>
<circle cx="168.50" cy="362.50" r="2.2" fill="#4e6487" stroke="#3d5784" stroke-width="0.4"/>
<circle cx="172.00" cy="362.50" r="2.2" fill="#4e6487" stroke="#3d5784" stroke-width="0.4"/>
<line x1="167.50" y1="362.00" x2="169.50" y2="362.00" stroke="#dfe6ef" stroke-width="0.8"/>
<line x1="171.00" y1="362.00" x2="173.00" y2="362.00" stroke="#dfe6ef" stroke-width="0.8"/>
<circle cx="199.20" cy="358.00" r="1.80" fill="none" stroke="#4e6487" stroke-width="1.1"/>
<circle cx="190.00" cy="360.50" r="1.80" fill="none" stroke="#4e6487" stroke-width="1.1"/>
<circle cx="193.50" cy="360.50" r="1.80" fill="none" stroke="#4e6487" stroke-width="1.1"/>
<circle cx="197.00" cy="361.50" r="1.80" fill="none" stroke="#4e6487" stroke-width="1.1"/>
<circle cx="200.50" cy="362.50" r="1.80" fill="none" stroke="#4e6487" stroke-width="1.1"/>
<circle cx="188.50" cy="363.50" r="1.80" fill="none" stroke="#4e6487" stroke-width="1.1"/>
<circle cx="192.00" cy="363.50" r="1.80" fill="none" stroke="#4e6487" stroke-width="1.1"/>
<circle cx="195.50" cy="364.00" r="1.80" fill="none" stroke="#4e6487" stroke-width="1.1"/>
<circle cx="199.00" cy="364.50" r="1.80" fill="none" stroke="#4e6487" stroke-width="1.1"/>
<circle cx="201.30" cy="365.00" r="1.80" fill="none" stroke="#4e6487" stroke-width="1.1"/>
<circle cx="190.00" cy="366.50" r="1.80" fill="none" stroke="#4e6487" stroke-width="1.1"/>
<circle cx="193.50" cy="367.00" r="1.80" fill="none" stroke="#4e6487" stroke-width="1.1"/>
<circle cx="197.00" cy="367.00" r="1.80" fill="none" stroke="#4e6487" stroke-width="1.1"/>
<circle cx="200.00" cy="366.50" r="1.80" fill="none" stroke="#4e6487" stroke-width="1.1"/>
<circle cx="192.00" cy="369.30" r="1.80" fill="none" stroke="#4e6487" stroke-width="1.1"/>
<circle cx="195.00" cy="369.30" r="1.80" fill="none" stroke="#4e6487" stroke-width="1.1"/>
<circle cx="193.50" cy="370.50" r="1.80" fill="none" stroke="#4e6487" stroke-width="1.1"/>
<circle cx="199.2" cy="358" r="0.7" fill="#4e6487"/>
<circle cx="264.00" cy="379.50" r="2.2" fill="#4e6487" stroke="#3d5784" stroke-width="0.4"/>
<circle cx="268.50" cy="379.00" r="2.2" fill="#4e6487" stroke="#3d5784" stroke-width="0.4"/>
<circle cx="273.00" cy="379.50" r="2.2" fill="#4e6487" stroke="#3d5784" stroke-width="0.4"/>
<circle cx="262.50" cy="382.00" r="2.2" fill="#4e6487" stroke="#3d5784" stroke-width="0.4"/>
<circle cx="266.00" cy="381.50" r="2.2" fill="#4e6487" stroke="#3d5784" stroke-width="0.4"/>
<circle cx="270.00" cy="381.50" r="2.2" fill="#4e6487" stroke="#3d5784" stroke-width="0.4"/>
<circle cx="274.50" cy="382.00" r="2.2" fill="#4e6487" stroke="#3d5784" stroke-width="0.4"/>
<circle cx="264.50" cy="384.00" r="2.2" fill="#4e6487" stroke="#3d5784" stroke-width="0.4"/>
<circle cx="268.00" cy="384.00" r="2.2" fill="#4e6487" stroke="#3d5784" stroke-width="0.4"/>
<circle cx="271.50" cy="384.00" r="2.2" fill="#4e6487" stroke="#3d5784" stroke-width="0.4"/>
<circle cx="266.50" cy="386.30" r="2.2" fill="#4e6487" stroke="#3d5784" stroke-width="0.4"/>
<circle cx="269.50" cy="386.30" r="2.2" fill="#4e6487" stroke="#3d5784" stroke-width="0.4"/>
<circle cx="268.00" cy="386.80" r="2.2" fill="#4e6487" stroke="#3d5784" stroke-width="0.4"/>
<circle cx="287.50" cy="381.00" r="2.2" fill="#4e6487" stroke="#3d5784" stroke-width="0.4"/>
<circle cx="290.00" cy="380.50" r="2.2" fill="#4e6487" stroke="#3d5784" stroke-width="0.4"/>
<circle cx="295.00" cy="380.50" r="2.2" fill="#4e6487" stroke="#3d5784" stroke-width="0.4"/>
<circle cx="297.50" cy="380.50" r="2.2" fill="#4e6487" stroke="#3d5784" stroke-width="0.4"/>
<circle cx="298.80" cy="382.00" r="2.2" fill="#4e6487" stroke="#3d5784" stroke-width="0.4"/>
<circle cx="286.80" cy="383.00" r="2.2" fill="#4e6487" stroke="#3d5784" stroke-width="0.4"/>
<circle cx="289.50" cy="383.00" r="2.2" fill="#4e6487" stroke="#3d5784" stroke-width="0.4"/>
<circle cx="293.00" cy="383.50" r="2.2" fill="#4e6487" stroke="#3d5784" stroke-width="0.4"/>
<circle cx="296.50" cy="383.00" r="2.2" fill="#4e6487" stroke="#3d5784" stroke-width="0.4"/>
<circle cx="290.50" cy="385.50" r="2.2" fill="#4e6487" stroke="#3d5784" stroke-width="0.4"/>
<circle cx="293.50" cy="385.50" r="2.2" fill="#4e6487" stroke="#3d5784" stroke-width="0.4"/>
<circle cx="292.20" cy="387.00" r="2.2" fill="#4e6487" stroke="#3d5784" stroke-width="0.4"/>
<circle cx="292.20" cy="378.50" r="1.80" fill="none" stroke="#4e6487" stroke-width="1.1"/>
<circle cx="292.2" cy="378.5" r="0.6" fill="#4e6487"/>
<circle cx="361.50" cy="412.30" r="2.2" fill="#4e6487" stroke="#3d5784" stroke-width="0.4"/>
<circle cx="364.50" cy="412.80" r="2.2" fill="#4e6487" stroke="#3d5784" stroke-width="0.4"/>
<circle cx="367.50" cy="413.00" r="2.2" fill="#4e6487" stroke="#3d5784" stroke-width="0.4"/>
<circle cx="370.50" cy="412.80" r="2.2" fill="#4e6487" stroke="#3d5784" stroke-width="0.4"/>
<circle cx="373.00" cy="412.30" r="2.2" fill="#4e6487" stroke="#3d5784" stroke-width="0.4"/>
<circle cx="363.00" cy="413.50" r="2.2" fill="#4e6487" stroke="#3d5784" stroke-width="0.4"/>
<circle cx="367.00" cy="413.80" r="2.2" fill="#4e6487" stroke="#3d5784" stroke-width="0.4"/>
<circle cx="371.00" cy="413.50" r="2.2" fill="#4e6487" stroke="#3d5784" stroke-width="0.4"/>
<circle cx="367.00" cy="414.50" r="2.2" fill="#4e6487" stroke="#3d5784" stroke-width="0.4"/>
<circle cx="388.00" cy="412.00" r="2.2" fill="#4e6487" stroke="#3d5784" stroke-width="0.4"/>
<circle cx="390.00" cy="413.80" r="2.2" fill="#4e6487" stroke="#3d5784" stroke-width="0.4"/>
<circle cx="392.50" cy="414.50" r="2.2" fill="#4e6487" stroke="#3d5784" stroke-width="0.4"/>
<circle cx="395.00" cy="413.30" r="2.2" fill="#4e6487" stroke="#3d5784" stroke-width="0.4"/>
<circle cx="396.30" cy="412.00" r="2.2" fill="#4e6487" stroke="#3d5784" stroke-width="0.4"/>
<circle cx="392.00" cy="415.50" r="2.2" fill="#4e6487" stroke="#3d5784" stroke-width="0.4"/>
<circle cx="386.00" cy="409.80" r="1.80" fill="none" stroke="#4e6487" stroke-width="1.1"/>
<circle cx="389.30" cy="411.20" r="1.80" fill="none" stroke="#4e6487" stroke-width="1.1"/>
<rect x="408" y="53.3" width="4.2" height="4.4" fill="#a23446"/>
<rect x="407.6" y="66.6" width="4.8" height="4.8" rx="1.2" fill="none" stroke="#a23446" stroke-width="0.9"/>
<circle cx="410" cy="69" r="1.2" fill="none" stroke="#a23446" stroke-width="0.7"/>
<text x="415.20" y="57.70" font-size="7.0" fill="#222" textLength="13.20" lengthAdjust="spacingAndGlyphs" stroke="#222" stroke-width="0.22">Hbb</text>
<text x="428.80" y="55.30" font-size="3.8" fill="#4a4a4a" textLength="9.20" lengthAdjust="spacingAndGlyphs" >th3/+</text>
<text x="415.40" y="70.80" font-size="7.0" fill="#222" textLength="13.00" lengthAdjust="spacingAndGlyphs" stroke="#222" stroke-width="0.22">Hbb</text>
<text x="429.80" y="68.50" font-size="3.8" fill="#4a4a4a" textLength="9.50" lengthAdjust="spacingAndGlyphs" >th3/+</text>
<text x="439.70" y="70.80" font-size="7.0" fill="#222" textLength="10.40" lengthAdjust="spacingAndGlyphs" stroke="#222" stroke-width="0.22">Vav</text>
<text x="450.90" y="68.50" font-size="3.8" fill="#4a4a4a" textLength="6.40" lengthAdjust="spacingAndGlyphs" >Cre</text>
<text x="457.90" y="70.80" font-size="7.0" fill="#222" textLength="19.00" lengthAdjust="spacingAndGlyphs" stroke="#222" stroke-width="0.22">Gdf11</text>
<text x="480.00" y="69.10" font-size="3.8" fill="#4a4a4a" textLength="18.50" lengthAdjust="spacingAndGlyphs" font-style="italic" >Δ2-3/Δ2-3</text>
<rect x="408" y="158.39999999999998" width="4.2" height="4.4" fill="#4e6487"/>
<rect x="407.6" y="171.7" width="4.8" height="4.8" rx="1.2" fill="none" stroke="#4e6487" stroke-width="0.9"/>
<circle cx="410" cy="174.1" r="1.2" fill="none" stroke="#4e6487" stroke-width="0.7"/>
<text x="415.10" y="162.80" font-size="7.0" fill="#222" textLength="12.70" lengthAdjust="spacingAndGlyphs" stroke="#222" stroke-width="0.22">Hbb</text>
<text x="428.00" y="160.40" font-size="3.8" fill="#4a4a4a" textLength="5.20" lengthAdjust="spacingAndGlyphs" >+/+</text>
<text x="415.40" y="175.90" font-size="7.0" fill="#222" textLength="13.00" lengthAdjust="spacingAndGlyphs" stroke="#222" stroke-width="0.22">Hbb</text>
<text x="430.20" y="173.60" font-size="3.8" fill="#4a4a4a" textLength="5.70" lengthAdjust="spacingAndGlyphs" >+/+</text>
<text x="436.20" y="175.90" font-size="7.0" fill="#222" textLength="10.40" lengthAdjust="spacingAndGlyphs" stroke="#222" stroke-width="0.22">Vav</text>
<text x="447.10" y="173.60" font-size="3.8" fill="#4a4a4a" textLength="5.60" lengthAdjust="spacingAndGlyphs" >Cre</text>
<text x="453.50" y="175.90" font-size="7.0" fill="#222" textLength="19.40" lengthAdjust="spacingAndGlyphs" stroke="#222" stroke-width="0.22">Gdf11</text>
<text x="476.00" y="174.20" font-size="3.8" fill="#4a4a4a" textLength="19.10" lengthAdjust="spacingAndGlyphs" font-style="italic" >Δ2-3/Δ2-3</text>
<circle cx="409.6" cy="266.4" r="2.2" fill="#a23446"/>
<circle cx="410" cy="279.2" r="2.35" fill="none" stroke="#a23446" stroke-width="1.0"/>
<circle cx="410" cy="279.2" r="0.7" fill="#a23446"/>
<text x="414.90" y="268.30" font-size="7.0" fill="#222" textLength="12.60" lengthAdjust="spacingAndGlyphs" stroke="#222" stroke-width="0.22">Hbb</text>
<text x="427.90" y="265.90" font-size="3.8" fill="#4a4a4a" textLength="10.10" lengthAdjust="spacingAndGlyphs" >th3/+</text>
<text x="438.30" y="268.30" font-size="7.0" fill="#222" textLength="18.10" lengthAdjust="spacingAndGlyphs" stroke="#222" stroke-width="0.22">Gdf11</text>
<text x="457.50" y="265.90" font-size="3.8" fill="#4a4a4a" textLength="13.70" lengthAdjust="spacingAndGlyphs" >flox/flox</text>
<text x="415.20" y="281.40" font-size="7.0" fill="#222" textLength="13.00" lengthAdjust="spacingAndGlyphs" stroke="#222" stroke-width="0.22">Hbb</text>
<text x="429.60" y="279.10" font-size="3.8" fill="#4a4a4a" textLength="9.80" lengthAdjust="spacingAndGlyphs" >th3/+</text>
<text x="440.60" y="281.40" font-size="7.0" fill="#222" textLength="12.70" lengthAdjust="spacingAndGlyphs" stroke="#222" stroke-width="0.22">Rosa</text>
<text x="453.60" y="279.10" font-size="3.8" fill="#4a4a4a" textLength="5.00" lengthAdjust="spacingAndGlyphs" >Cre</text>
<text x="458.80" y="281.40" font-size="7.0" fill="#222" textLength="17.70" lengthAdjust="spacingAndGlyphs" stroke="#222" stroke-width="0.22">Gdf11</text>
<text x="480.80" y="279.70" font-size="3.8" fill="#4a4a4a" textLength="20.20" lengthAdjust="spacingAndGlyphs" font-style="italic" >Δ2-3/Δ2-3</text>
<circle cx="409.8" cy="372.90000000000003" r="2.2" fill="#4e6487"/>
<circle cx="410" cy="385.70000000000005" r="2.35" fill="none" stroke="#4e6487" stroke-width="1.0"/>
<circle cx="410" cy="385.70000000000005" r="0.7" fill="#4e6487"/>
<text x="414.90" y="374.80" font-size="7.0" fill="#222" textLength="12.60" lengthAdjust="spacingAndGlyphs" stroke="#222" stroke-width="0.22">Hbb</text>
<text x="427.90" y="372.40" font-size="3.8" fill="#4a4a4a" textLength="5.60" lengthAdjust="spacingAndGlyphs" >+/+</text>
<text x="434.20" y="374.80" font-size="7.0" fill="#222" textLength="18.80" lengthAdjust="spacingAndGlyphs" stroke="#222" stroke-width="0.22">Gdf11</text>
<text x="454.00" y="372.40" font-size="3.8" fill="#4a4a4a" textLength="13.90" lengthAdjust="spacingAndGlyphs" >flox/flox</text>
<text x="415.50" y="387.90" font-size="7.0" fill="#222" textLength="12.90" lengthAdjust="spacingAndGlyphs" stroke="#222" stroke-width="0.22">Hbb</text>
<text x="430.20" y="385.60" font-size="3.8" fill="#4a4a4a" textLength="5.20" lengthAdjust="spacingAndGlyphs" >+/+</text>
<text x="436.20" y="387.90" font-size="7.0" fill="#222" textLength="13.00" lengthAdjust="spacingAndGlyphs" stroke="#222" stroke-width="0.22">Rosa</text>
<text x="449.70" y="385.60" font-size="3.8" fill="#4a4a4a" textLength="4.70" lengthAdjust="spacingAndGlyphs" >Cre</text>
<text x="454.90" y="387.90" font-size="7.0" fill="#222" textLength="18.50" lengthAdjust="spacingAndGlyphs" stroke="#222" stroke-width="0.22">Gdf11</text>
<text x="478.60" y="386.20" font-size="3.8" fill="#4a4a4a" textLength="19.90" lengthAdjust="spacingAndGlyphs" font-style="italic" >Δ2-3/Δ2-3</text>
<text x="0" y="0" font-size="11.2" fill="#262626" transform="translate(33.7 435.8) scale(0.9 1)">Q</text>
<line x1="59.30" y1="442.60" x2="59.30" y2="522.30" stroke="#1e1e1e" stroke-width="1.1"/>
<line x1="58.80" y1="521.80" x2="212.40" y2="521.80" stroke="#1e1e1e" stroke-width="1.1"/>
<line x1="56.20" y1="521.80" x2="59.30" y2="521.80" stroke="#1e1e1e" stroke-width="1.1"/>
<text x="53.50" y="524.65" font-size="7.8" fill="#1a1a1a" text-anchor="end" textLength="9.20" lengthAdjust="spacingAndGlyphs" >0.0</text>
<line x1="56.20" y1="506.52" x2="59.30" y2="506.52" stroke="#1e1e1e" stroke-width="1.1"/>
<text x="53.50" y="509.37" font-size="7.8" fill="#1a1a1a" text-anchor="end" textLength="9.20" lengthAdjust="spacingAndGlyphs" >0.2</text>
<line x1="56.20" y1="491.24" x2="59.30" y2="491.24" stroke="#1e1e1e" stroke-width="1.1"/>
<text x="53.50" y="494.09" font-size="7.8" fill="#1a1a1a" text-anchor="end" textLength="9.20" lengthAdjust="spacingAndGlyphs" >0.4</text>
<line x1="56.20" y1="475.96" x2="59.30" y2="475.96" stroke="#1e1e1e" stroke-width="1.1"/>
<text x="53.50" y="478.81" font-size="7.8" fill="#1a1a1a" text-anchor="end" textLength="9.20" lengthAdjust="spacingAndGlyphs" >0.6</text>
<line x1="56.20" y1="460.68" x2="59.30" y2="460.68" stroke="#1e1e1e" stroke-width="1.1"/>
<text x="53.50" y="463.53" font-size="7.8" fill="#1a1a1a" text-anchor="end" textLength="9.20" lengthAdjust="spacingAndGlyphs" >0.8</text>
<line x1="56.20" y1="445.40" x2="59.30" y2="445.40" stroke="#1e1e1e" stroke-width="1.1"/>
<text x="53.50" y="448.25" font-size="7.8" fill="#1a1a1a" text-anchor="end" textLength="9.20" lengthAdjust="spacingAndGlyphs" >1.0</text>
<line x1="95.50" y1="521.80" x2="95.50" y2="524.80" stroke="#555" stroke-width="0.9"/>
<text x="87.80" y="534.90" font-size="7.8" fill="#1a1a1a" textLength="16.20" lengthAdjust="spacingAndGlyphs" >Gdf8</text>
<line x1="175.80" y1="521.80" x2="175.80" y2="524.80" stroke="#555" stroke-width="0.9"/>
<text x="166.30" y="534.90" font-size="7.8" fill="#1a1a1a" textLength="19.10" lengthAdjust="spacingAndGlyphs" >Gdf11</text>
<text x="26.00" y="507.00" font-size="9.6" fill="#222" textLength="49.60" lengthAdjust="spacingAndGlyphs" transform="rotate(-90 26.00 507.00)" stroke="#222" stroke-width="0.12">mRNA levels</text>
<text x="37.30" y="528.60" font-size="9.6" fill="#222" textLength="92.30" lengthAdjust="spacingAndGlyphs" transform="rotate(-90 37.30 528.60)" stroke="#222" stroke-width="0.12">relative to Hprt (spleen)</text>
<rect x="146.6" y="511.2" width="15.4" height="10.60" fill="#a23444" stroke="#8e1e32" stroke-width="0.6"/>
<line x1="154.30" y1="508.00" x2="154.30" y2="511.20" stroke="#222" stroke-width="1.0"/>
<line x1="150.30" y1="508.00" x2="158.30" y2="508.00" stroke="#222" stroke-width="1.0"/>
<rect x="168.2" y="520.4" width="15.4" height="1.4" fill="#4b6084" stroke="#3a5480" stroke-width="0.5"/>
<line x1="172.30" y1="519.60" x2="180.20" y2="519.60" stroke="#333" stroke-width="0.8"/>
<rect x="190" y="520.0" width="15.4" height="1.8" fill="#74a858" stroke="#5f9a44" stroke-width="0.5"/>
<line x1="194.40" y1="519.20" x2="201.60" y2="519.20" stroke="#333" stroke-width="0.8"/>
<polyline points="154.2,506 154.2,502.5 176.5,502.5 176.5,507.2" fill="none" stroke="#333" stroke-width="0.9"/>
<polyline points="154.2,496.3 154.2,491 197.5,491 197.5,496.3" fill="none" stroke="#333" stroke-width="0.9"/>
<text x="165.50" y="502.90" font-size="7.5" fill="#333" text-anchor="middle" >*</text>
<text x="175.90" y="490.60" font-size="7.5" fill="#333" text-anchor="middle" >*</text>
<line x1="229.90" y1="442.00" x2="229.90" y2="522.30" stroke="#1e1e1e" stroke-width="1.1"/>
<line x1="229.40" y1="521.80" x2="303.10" y2="521.80" stroke="#1e1e1e" stroke-width="1.1"/>
<line x1="226.80" y1="521.80" x2="229.90" y2="521.80" stroke="#1e1e1e" stroke-width="1.1"/>
<text x="223.90" y="524.65" font-size="7.8" fill="#1a1a1a" text-anchor="end" textLength="3.95" lengthAdjust="spacingAndGlyphs" >0</text>
<line x1="226.80" y1="506.40" x2="229.90" y2="506.40" stroke="#1e1e1e" stroke-width="1.1"/>
<text x="223.90" y="509.25" font-size="7.8" fill="#1a1a1a" text-anchor="end" textLength="3.95" lengthAdjust="spacingAndGlyphs" >5</text>
<line x1="226.80" y1="491.00" x2="229.90" y2="491.00" stroke="#1e1e1e" stroke-width="1.1"/>
<text x="223.90" y="493.85" font-size="7.8" fill="#1a1a1a" text-anchor="end" textLength="7.90" lengthAdjust="spacingAndGlyphs" >10</text>
<line x1="226.80" y1="475.60" x2="229.90" y2="475.60" stroke="#1e1e1e" stroke-width="1.1"/>
<text x="223.90" y="478.45" font-size="7.8" fill="#1a1a1a" text-anchor="end" textLength="7.90" lengthAdjust="spacingAndGlyphs" >15</text>
<line x1="226.80" y1="460.20" x2="229.90" y2="460.20" stroke="#1e1e1e" stroke-width="1.1"/>
<text x="223.90" y="463.05" font-size="7.8" fill="#1a1a1a" text-anchor="end" textLength="7.90" lengthAdjust="spacingAndGlyphs" >20</text>
<line x1="226.80" y1="444.80" x2="229.90" y2="444.80" stroke="#1e1e1e" stroke-width="1.1"/>
<text x="223.90" y="447.65" font-size="7.8" fill="#1a1a1a" text-anchor="end" textLength="7.90" lengthAdjust="spacingAndGlyphs" >25</text>
<line x1="267.50" y1="521.80" x2="267.50" y2="524.80" stroke="#555" stroke-width="0.9"/>
<text x="258.80" y="534.90" font-size="7.8" fill="#1a1a1a" textLength="17.30" lengthAdjust="spacingAndGlyphs" >Gypa</text>
<rect x="237.9" y="457.7" width="15.30" height="64.10" fill="#a23444" stroke="#8e1e32" stroke-width="0.7"/>
<line x1="245.55" y1="452.90" x2="245.55" y2="457.70" stroke="#222" stroke-width="1.0"/>
<line x1="241.60" y1="452.90" x2="249.60" y2="452.90" stroke="#222" stroke-width="1.0"/>
<rect x="259.6" y="466.0" width="15.40" height="55.80" fill="#4b6084" stroke="#3a5480" stroke-width="0.7"/>
<line x1="267.30" y1="459.50" x2="267.30" y2="466.00" stroke="#222" stroke-width="1.0"/>
<line x1="263.50" y1="459.50" x2="271.50" y2="459.50" stroke="#222" stroke-width="1.0"/>
<rect x="281.5" y="452.1" width="15.70" height="69.70" fill="#74a858" stroke="#5f9a44" stroke-width="0.7"/>
<line x1="289.35" y1="449.50" x2="289.35" y2="452.10" stroke="#222" stroke-width="1.0"/>
<line x1="285.30" y1="449.50" x2="293.20" y2="449.50" stroke="#222" stroke-width="1.0"/>
<rect x="306.6" y="465.3" width="8.4" height="8.4" fill="#a23444" stroke="#8e1e32" stroke-width="0.5"/>
<rect x="306.6" y="479.0" width="8.4" height="8.4" fill="#4b6084" stroke="#3a5480" stroke-width="0.5"/>
<rect x="306.6" y="492.8" width="8.4" height="8.4" fill="#74a858" stroke="#5f9a44" stroke-width="0.5"/>
<text x="317.80" y="472.30" font-size="7.0" fill="#222" textLength="12.70" lengthAdjust="spacingAndGlyphs" stroke="#222" stroke-width="0.22">Hbb</text>
<text x="331.10" y="469.90" font-size="3.8" fill="#4a4a4a" textLength="9.50" lengthAdjust="spacingAndGlyphs" >th3/+</text>
<text x="317.80" y="485.40" font-size="7.0" fill="#222" textLength="12.70" lengthAdjust="spacingAndGlyphs" stroke="#222" stroke-width="0.22">Hbb</text>
<text x="331.10" y="483.00" font-size="3.8" fill="#4a4a4a" textLength="9.50" lengthAdjust="spacingAndGlyphs" >th3/+</text>
<text x="341.10" y="485.40" font-size="7.0" fill="#222" textLength="10.40" lengthAdjust="spacingAndGlyphs" stroke="#222" stroke-width="0.22">Vav</text>
<text x="352.10" y="483.00" font-size="3.8" fill="#4a4a4a" textLength="5.80" lengthAdjust="spacingAndGlyphs" >Cre</text>
<text x="358.50" y="485.40" font-size="7.0" fill="#222" textLength="17.70" lengthAdjust="spacingAndGlyphs" stroke="#222" stroke-width="0.22">Gdf11</text>
<text x="382.60" y="483.80" font-size="3.8" fill="#4a4a4a" textLength="19.20" lengthAdjust="spacingAndGlyphs" font-style="italic" >Δ2-3/Δ2-3</text>
<text x="317.80" y="498.80" font-size="7.0" fill="#222" textLength="12.70" lengthAdjust="spacingAndGlyphs" stroke="#222" stroke-width="0.22">Hbb</text>
<text x="331.10" y="496.40" font-size="3.8" fill="#4a4a4a" textLength="9.50" lengthAdjust="spacingAndGlyphs" >th3/+</text>
<text x="341.50" y="498.80" font-size="7.0" fill="#222" textLength="12.80" lengthAdjust="spacingAndGlyphs" stroke="#222" stroke-width="0.22">Rosa</text>
<text x="355.20" y="496.40" font-size="3.8" fill="#4a4a4a" textLength="6.40" lengthAdjust="spacingAndGlyphs" >Cre</text>
<text x="362.90" y="498.80" font-size="7.0" fill="#222" textLength="17.90" lengthAdjust="spacingAndGlyphs" stroke="#222" stroke-width="0.22">Gdf11</text>
<text x="387.20" y="497.30" font-size="3.8" fill="#4a4a4a" textLength="19.10" lengthAdjust="spacingAndGlyphs" font-style="italic" >Δ2-3/Δ2-3</text>
<rect x="0" y="0" width="1" height="544" fill="#111"/>
<rect x="519" y="0" width="1" height="544" fill="#111"/>
<rect x="0" y="0" width="520" height="1" fill="#4a4a4a"/>
<rect x="0" y="1" width="520" height="0.6" fill="#999"/>
<rect x="0" y="542" width="520" height="1" fill="#999"/>
<rect x="0" y="543" width="520" height="1" fill="#444"/>
</svg>
</body></html>
